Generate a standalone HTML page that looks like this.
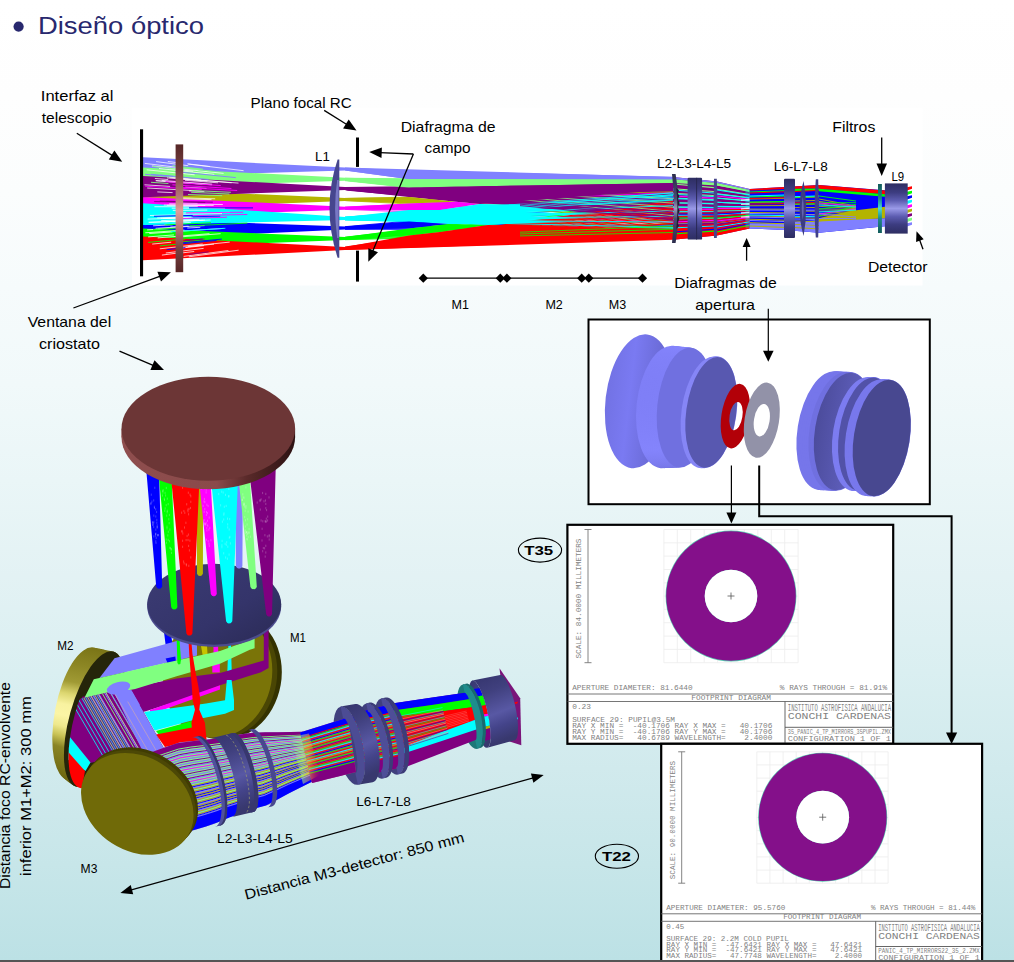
<!DOCTYPE html>
<html><head><meta charset="utf-8"><title>Diseño óptico</title>
<style>
html,body{margin:0;padding:0;}
body{width:1014px;height:962px;overflow:hidden;position:relative;background:linear-gradient(to bottom,#ffffff 0px,#fefefe 96px,#fbfdfd 192px,#f6fbfc 288px,#f1f9fa 384px,#eaf6f7 480px,#e3f2f4 576px,#daeff1 672px,#d1eaed 768px,#c7e6e9 864px,#bce1e5 960px);font-family:"Liberation Sans", sans-serif;}
svg{position:absolute;left:0;top:0;font-family:"Liberation Sans", sans-serif;}
.bar{position:absolute;left:0;top:960px;width:1014px;height:2px;background:#555;}
</style></head><body>
<svg width="1014" height="962" viewBox="0 0 1014 962">
<rect x="132" y="108" width="790.5" height="177.5" fill="#ffffff"/>
<g>
<polygon points="143,189.3 345,198.0 345,201.0 143,208.8" fill="#b4b400"/>
<polygon points="143,157.3 345,167.5 345,170.5 143,176.8" fill="#8080ff"/>
<polygon points="143,167.4 345,177.8 345,180.8 143,187.6" fill="#80ff80"/>
<polygon points="143,197 345,206.7 345,209.7 143,217" fill="#ff00ff"/>
<polygon points="143,176 345,187.0 345,190.0 143,197.3" fill="#800080"/>
<polygon points="143,219.2 345,226.5 345,229.5 143,238.7" fill="#0000ff"/>
<polygon points="143,203.2 345,217.0 345,220.0 143,225" fill="#00ffff"/>
<polygon points="143,228.5 345,237.0 345,240.0 143,248" fill="#00ff00"/>
<polygon points="143,236.5 345,247.1 345,250.1 143,260.3" fill="#ff0000"/>
<path d="M169.2,203.9L222.8,204.5M166.9,205.2L205.3,205.5M167.0,177.9L207.4,181.2M148.2,236.9L173.9,234.9M180.4,168.8L223.6,173.4M188.2,164.1L243.6,170.7M171.7,223.4L190.8,222.6M167.8,161.5L182.5,163.3M154.9,178.5L168.2,179.5M163.8,205.0L213.7,205.4M172.8,210.4L207.3,210.1M164.6,224.3L189.1,223.2M188.8,256.8L238.6,250.2M158.2,228.7L180.5,227.4M147.2,188.0L193.6,190.6M182.1,198.8L211.5,199.6M182.1,252.9L194.2,251.5M185.0,180.3L218.1,182.8M161.9,255.1L177.2,253.1M179.0,221.1L203.2,220.2M159.0,168.5L214.3,174.4M149.3,233.5L172.4,231.9M146.7,169.8L194.6,174.8M169.2,177.2L201.3,179.9M176.9,178.5L194.8,179.9M149.2,222.4L180.2,221.2M156.1,180.6L211.8,184.8M157.7,237.9L209.5,233.7M161.7,180.4L212.2,184.2M148.5,222.3L205.0,220.1M155.6,180.7L202.4,184.2M157.3,191.9L172.6,192.6M170.2,168.7L193.2,171.2M160.7,218.3L193.1,217.4M165.8,253.0L203.6,248.4M152.2,244.1L171.2,242.2M180.8,248.1L204.0,245.6M177.3,178.4L231.6,182.8M186.8,179.1L238.5,183.1M163.0,218.5L179.6,218.1M187.3,163.8L210.0,166.5M155.6,228.3L204.6,225.6M157.2,217.9L177.1,217.3M147.1,229.9L169.4,228.5M182.4,214.3L222.0,213.6M185.3,187.2L206.5,188.4M156.1,161.6L188.2,165.7M151.9,165.9L180.5,169.1M149.9,215.5L178.2,214.9M188.1,246.4L229.7,242.1M170.3,227.0L188.6,226.1M144.8,163.4L197.8,169.8M187.3,228.0L200.3,227.3M165.7,221.7L210.6,220.0M189.0,190.9L204.4,191.6M177.2,213.0L229.7,212.3M175.7,231.5L223.4,228.4M159.8,248.8L202.7,244.0M183.2,247.4L214.0,244.1M182.9,236.7L220.6,233.7M161.2,220.6L199.4,219.3M147.6,219.1L188.4,217.8M183.6,256.4L228.4,250.5M177.1,197.7L215.2,198.8M181.7,202.7L197.5,203.0M145.3,232.8L184.4,230.1M154.4,206.7L197.8,206.8M171.7,208.2L225.1,208.2M144.5,184.8L170.1,186.4M153.1,225.8L172.7,224.8" stroke="#ffffff" stroke-width="0.9" fill="none" opacity="0.85"/>
<path d="M177.0,167.2L214.1,171.4" stroke="#80ff80" stroke-width="0.9" fill="none"/>
<path d="M160.3,175.1L208.6,179.5" stroke="#8080ff" stroke-width="0.9" fill="none"/>
<path d="M165.5,181.6L220.8,185.6" stroke="#ff00ff" stroke-width="0.9" fill="none"/>
<path d="M188.0,194.5L222.2,195.7" stroke="#80ff80" stroke-width="0.9" fill="none"/>
<path d="M159.8,201.1L181.6,201.5" stroke="#800080" stroke-width="0.9" fill="none"/>
<path d="M185.9,212.9L243.3,212.2" stroke="#ff00ff" stroke-width="0.9" fill="none"/>
<path d="M191.5,216.8L220.3,216.1" stroke="#0000ff" stroke-width="0.9" fill="none"/>
<path d="M166.5,224.5L195.3,223.2" stroke="#00ffff" stroke-width="0.9" fill="none"/>
<path d="M164.7,224.9L211.0,222.8" stroke="#00ff00" stroke-width="0.9" fill="none"/>
<path d="M159.8,245.9L216.7,240.0" stroke="#00ff00" stroke-width="0.9" fill="none"/>
<path d="M166.6,249.7L185.4,247.6" stroke="#0000ff" stroke-width="0.9" fill="none"/>
<path d="M187.6,240.6L204.7,239.1" stroke="#800080" stroke-width="0.9" fill="none"/>
<path d="M172.5,165.7L203.0,169.2" stroke="#80ff80" stroke-width="0.9" fill="none"/>
<path d="M145.0,174.3L166.7,176.3" stroke="#8080ff" stroke-width="0.9" fill="none"/>
<path d="M145.2,186.2L201.7,189.5" stroke="#ff00ff" stroke-width="0.9" fill="none"/>
<path d="M151.0,182.3L168.4,183.5" stroke="#80ff80" stroke-width="0.9" fill="none"/>
<path d="M166.3,201.4L212.8,202.2" stroke="#800080" stroke-width="0.9" fill="none"/>
<path d="M184.4,215.8L247.3,214.5" stroke="#ff00ff" stroke-width="0.9" fill="none"/>
<path d="M154.0,216.3L192.7,215.4" stroke="#0000ff" stroke-width="0.9" fill="none"/>
<path d="M144.5,224.6L183.1,222.9" stroke="#00ffff" stroke-width="0.9" fill="none"/>
<path d="M153.0,229.4L181.6,227.8" stroke="#00ff00" stroke-width="0.9" fill="none"/>
<path d="M178.9,242.3L219.9,238.5" stroke="#00ff00" stroke-width="0.9" fill="none"/>
<path d="M181.8,243.8L216.5,240.4" stroke="#0000ff" stroke-width="0.9" fill="none"/>
<path d="M189.3,254.3L208.7,251.8" stroke="#800080" stroke-width="0.9" fill="none"/>
<path d="M180.1,167.5L201.6,169.8" stroke="#80ff80" stroke-width="0.9" fill="none"/>
<path d="M175.3,171.6L235.8,177.6" stroke="#8080ff" stroke-width="0.9" fill="none"/>
<path d="M172.4,184.8L231.4,188.5" stroke="#ff00ff" stroke-width="0.9" fill="none"/>
<path d="M191.2,192.3L229.4,194.0" stroke="#80ff80" stroke-width="0.9" fill="none"/>
<path d="M154.2,201.6L205.3,202.5" stroke="#800080" stroke-width="0.9" fill="none"/>
<path d="M176.1,218.7L227.0,217.2" stroke="#ff00ff" stroke-width="0.9" fill="none"/>
<path d="M189.0,207.8L253.0,207.9" stroke="#0000ff" stroke-width="0.9" fill="none"/>
<path d="M170.8,231.8L225.4,228.3" stroke="#00ffff" stroke-width="0.9" fill="none"/>
<path d="M189.5,225.9L247.3,223.1" stroke="#00ff00" stroke-width="0.9" fill="none"/>
<path d="M148.1,242.4L185.2,238.9" stroke="#00ff00" stroke-width="0.9" fill="none"/>
<path d="M182.4,242.8L221.8,239.1" stroke="#0000ff" stroke-width="0.9" fill="none"/>
<path d="M184.5,240.5L202.7,238.9" stroke="#800080" stroke-width="0.9" fill="none"/>
<path d="M152.6,166.4L184.4,170.0" stroke="#80ff80" stroke-width="0.9" fill="none"/>
<path d="M151.0,174.3L173.5,176.4" stroke="#8080ff" stroke-width="0.9" fill="none"/>
<path d="M180.2,187.3L237.2,190.5" stroke="#ff00ff" stroke-width="0.9" fill="none"/>
<path d="M191.3,190.4L230.9,192.3" stroke="#80ff80" stroke-width="0.9" fill="none"/>
<polygon points="345,167.5 673,177.0 673,214.5 345,170.5" fill="#8080ff"/>
<polygon points="345,177.8 673,180.1 673,217.6 345,180.8" fill="#80ff80"/>
<polygon points="345,187.0 673,182.9 673,220.3 345,190.0" fill="#800080"/>
<polygon points="345,248.8 673,222.4 673,238.3 345,250.1" fill="#ff0000"/>
<path d="M345,217.1L673,192.8M345,217.3L673,195.8M345,217.6L673,198.7M345,217.8L673,201.7M345,218.0L673,204.7M345,218.3L673,207.6M345,218.5L673,210.6M345,218.7L673,213.6M345,219.0L673,216.5M345,219.2L673,219.5M345,219.4L673,222.5M345,219.7L673,225.4M345,219.9L673,228.4" stroke="#00ffff" stroke-width="1.0" fill="none"/>
<path d="M345,226.7L673,197.5M345,227.1L673,202.1M345,227.5L673,206.6M345,227.8L673,211.2M345,228.2L673,215.7M345,228.5L673,220.3M345,228.9L673,224.8M345,229.3L673,229.4" stroke="#0000ff" stroke-width="0.9" fill="none"/>
<path d="M345,237.2L673,199.8M345,237.5L673,203.7M345,237.8L673,207.7M345,238.1L673,211.7M345,238.4L673,215.7M345,238.7L673,219.6M345,239.1L673,223.6M345,239.4L673,227.6M345,239.7L673,231.6" stroke="#00ff00" stroke-width="0.9" fill="none"/>
<path d="M345,207.0L673,192.5M345,207.5L673,198.5M345,208.0L673,204.5M345,208.4L673,210.5M345,208.9L673,216.5M345,209.4L673,222.5" stroke="#ff00ff" stroke-width="0.8" fill="none"/>
<path d="M345,198.4L673,191.8M345,199.2L673,200.5M345,199.8L673,209.3M345,200.6L673,218.0" stroke="#b4b400" stroke-width="0.8" fill="none"/>
<path d="M345,188.3L673,199.7M345,188.5L673,201.3M345,188.6L673,202.8M345,188.7L673,204.4M345,188.8L673,205.9M345,189.0L673,207.5M345,189.1L673,209.1M345,189.2L673,210.6M345,189.3L673,212.2M345,189.5L673,213.7M345,189.6L673,215.3M345,189.7L673,216.8M345,189.8L673,218.4M345,190.0L673,219.9" stroke="#800080" stroke-width="1.1" fill="none"/>
<path d="M345,247.1L673,201.3M345,247.3L673,203.1M345,247.4L673,205.0M345,247.6L673,206.8M345,247.7L673,208.6M345,247.9L673,210.5M345,248.0L673,212.3M345,248.2L673,214.2M345,248.3L673,216.0M345,248.5L673,217.9M345,248.6L673,219.7M345,248.8L673,221.5M345,248.9L673,223.4" stroke="#ff0000" stroke-width="1.1" fill="none"/>
<path d="M345,179.3L673,198.8M345,179.6L673,203.1M345,180.0L673,207.3M345,180.3L673,211.5M345,180.7L673,215.7" stroke="#80ff80" stroke-width="0.8" fill="none"/>
<path d="M345,217.2L673,194.7M345,217.7L673,200.1M345,218.1L673,205.6M345,218.5L673,211.1M345,219.0L673,216.5M345,219.4L673,222.0M345,219.8L673,227.4" stroke="#00ffff" stroke-width="0.9" fill="none"/>
<polygon points="345,167.5 409,170.7 530,173.3 673,176.8 673,179.4 409,179.2 345,170.5" fill="#8080ff"/>
<polygon points="345,177.8 409,179.2 673,179.4 673,183 530,185.5 409,187.5 345,180.8" fill="#80ff80"/>
<polygon points="345,187 409,187.5 530,185.5 673,183 673,189.6 480,204 456,201.7 409,197 345,190" fill="#800080"/>
<polygon points="345,198 409,197 456,201.7 409,203.5 345,201" fill="#b4b400"/>
<polygon points="345,206.7 409,203.5 456,201.7 480,204 440,210 409,210 345,209.7" fill="#ff00ff"/>
<polygon points="345,217 409,210 440,210 480,204 520,204.5 575,205.5 520,208 590,210 525,212 600,214 530,216 585,218 525,220 570,222 515,223.5 488,225 448,224 409,221.5 345,220" fill="#00ffff"/>
<polygon points="345,226.5 409,221.5 448,224 409,228.5 345,229.5" fill="#0000ff"/>
<polygon points="345,237 409,228.5 448,224 488,225 440,232 409,235.5 345,240" fill="#00ff00"/>
<polygon points="345,247.1 409,235.5 440,232 488,225 673,229 673,239.8 345,250.1" fill="#ff0000"/>
<path d="M500,205.6L673,192.8M500,206.7L673,195.0M500,207.9L673,197.2M500,209.0L673,199.4" stroke="#00ffff" stroke-width="0.8" fill="none"/>
<path d="M520,201.4L673,211.9M520,202.8L673,214.4M520,204.2L673,216.9M520,205.6L673,219.4" stroke="#800080" stroke-width="0.9" fill="none"/>
<path d="M520,232.2L673,226.0M520,234.0L673,229.2M520,235.9L673,232.5" stroke="#00ff00" stroke-width="0.8" fill="none"/>
<polygon points="673,177 717,181.5 717,235.6 673,239.8" fill="#800080"/>
<polygon points="673,177 717,181.5 717,183 673,179.2" fill="#8080ff"/>
<polygon points="673,179.2 717,183 717,185.5 673,183" fill="#80ff80"/>
<polygon points="673,228 717,228 717,235.6 673,239.8" fill="#ff0000"/>
<path d="M673,184.0L717,187.9M673,188.7L717,191.8M673,193.3L717,195.8M673,198.0L717,199.7M673,202.7L717,203.6M673,207.3L717,207.6M673,212.0L717,211.5" stroke="#80ff80" stroke-width="1.1" fill="none"/>
<path d="M673,190.0L717,193.2M673,194.2L717,196.8M673,198.4L717,200.4M673,202.7L717,204.0M673,206.9L717,207.6M673,211.1L717,211.2M673,215.3L717,214.8M673,219.6L717,218.4M673,223.8L717,222.0M673,228.0L717,225.6" stroke="#00ffff" stroke-width="1.1" fill="none"/>
<path d="M673,210.0L717,210.8M673,213.3L717,213.5M673,216.7L717,216.3M673,220.0L717,219.1M673,223.3L717,221.8M673,226.7L717,224.6M673,230.0L717,227.4" stroke="#ff0000" stroke-width="1.1" fill="none"/>
<path d="M673,214.0L717,214.3M673,232.0L717,229.1" stroke="#0000ff" stroke-width="1.1" fill="none"/>
<path d="M673,218.0L717,217.8M673,234.0L717,230.9" stroke="#00ff00" stroke-width="1.1" fill="none"/>
<path d="M673,196.0L717,198.4M673,209.0L717,209.4M673,222.0L717,220.3" stroke="#ff00ff" stroke-width="1.1" fill="none"/>
<polygon points="717,181.5 749.7,189 749.7,228.5 717,235.6" fill="#800080"/>
<polygon points="717,181.5 749.7,189 749.7,190 717,183" fill="#8080ff"/>
<polygon points="717,183 749.7,190 749.7,191.5 717,185.5" fill="#80ff80"/>
<polygon points="717,228 749.7,224 749.7,228.5 717,235.6" fill="#ff0000"/>
<path d="M717,185.0L749.7,191.4M717,189.3L749.7,194.6M717,193.7L749.7,197.7M717,198.0L749.7,200.8M717,202.3L749.7,203.9M717,206.7L749.7,207.0M717,211.0L749.7,210.2" stroke="#80ff80" stroke-width="1.1" fill="none"/>
<path d="M717,190.0L749.7,195.0M717,194.1L749.7,198.0M717,198.2L749.7,201.0M717,202.3L749.7,203.9M717,206.4L749.7,206.9M717,210.6L749.7,209.8M717,214.7L749.7,212.8M717,218.8L749.7,215.8M717,222.9L749.7,218.7M717,227.0L749.7,221.7" stroke="#00ffff" stroke-width="1.1" fill="none"/>
<path d="M717,210.0L749.7,209.4M717,213.2L749.7,211.7M717,216.3L749.7,214.0M717,219.5L749.7,216.3M717,222.7L749.7,218.6M717,225.8L749.7,220.8M717,229.0L749.7,223.1" stroke="#ff0000" stroke-width="1.1" fill="none"/>
<path d="M717,214.0L749.7,212.3M717,230.0L749.7,223.8" stroke="#0000ff" stroke-width="1.1" fill="none"/>
<path d="M717,218.0L749.7,215.2M717,232.0L749.7,225.3" stroke="#00ff00" stroke-width="1.1" fill="none"/>
<path d="M717,196.0L749.7,199.4M717,208.5L749.7,208.4M717,221.0L749.7,217.4" stroke="#ff00ff" stroke-width="1.1" fill="none"/>
<polygon points="745.5,190 750.5,189.3 750.5,228.3 745.5,228" fill="#00ffff" opacity="0.3"/>
<path d="M741,200.1L749,199.5L757,200.0" stroke="#ffffff" stroke-width="1.3" fill="none" opacity="0.8"/>
<path d="M741,204.4L749,203.8L757,204.3" stroke="#ffffff" stroke-width="1.3" fill="none" opacity="0.8"/>
<path d="M741,208.79999999999998L749,208.2L757,208.7" stroke="#ffffff" stroke-width="1.3" fill="none" opacity="0.8"/>
<path d="M741,213.0L749,212.4L757,212.9" stroke="#ffffff" stroke-width="1.3" fill="none" opacity="0.8"/>
<path d="M741,217.1L749,216.5L757,217.0" stroke="#ffffff" stroke-width="1.3" fill="none" opacity="0.8"/>
<polygon points="749.7,189 784.5,187 784.5,230 749.7,228.5" fill="#0000ff"/>
<polygon points="749.7,189 784.5,187 784.5,189 749.7,190.5" fill="#ff0000"/>
<polygon points="749.7,223.5 784.5,223 784.5,230 749.7,228.5" fill="#8080ff"/>
<path d="M749.7,199.0L784.5,198.3M749.7,202.4L784.5,201.9M749.7,205.8L784.5,205.6M749.7,209.1L784.5,209.2M749.7,212.5L784.5,212.9M749.7,215.9L784.5,216.5M749.7,219.2L784.5,220.2M749.7,222.6L784.5,223.8M749.7,226.0L784.5,227.4" stroke="#b4b400" stroke-width="1.0" fill="none"/>
<path d="M749.7,192.0L784.5,190.7M749.7,197.0L784.5,196.1M749.7,202.0L784.5,201.5" stroke="#00ff00" stroke-width="1.0" fill="none"/>
<path d="M749.7,193.0L784.5,191.8M749.7,198.5L784.5,197.7M749.7,204.0L784.5,203.7" stroke="#ff0000" stroke-width="1.0" fill="none"/>
<path d="M749.7,196.0L784.5,195.0M749.7,215.0L784.5,215.6" stroke="#00ffff" stroke-width="1.0" fill="none"/>
<path d="M749.7,210.0L784.5,210.2M749.7,213.5L784.5,213.9M749.7,217.0L784.5,217.7M749.7,220.5L784.5,221.5M749.7,224.0L784.5,225.3" stroke="#8080ff" stroke-width="1.0" fill="none"/>
<polygon points="784.5,187 819,185 819,232.7 784.5,230" fill="#0000ff"/>
<polygon points="784.5,187 819,185 819,188.5 784.5,189" fill="#ff0000"/>
<polygon points="784.5,189 819,188.5 819,191 784.5,190.5" fill="#00ff00"/>
<polygon points="784.5,222.5 819,220 819,232.7 784.5,230" fill="#8080ff"/>
<path d="M784.5,198.0L819,197.0M784.5,201.2L819,200.5M784.5,204.4L819,204.1M784.5,207.7L819,207.6M784.5,210.9L819,211.2M784.5,214.1L819,214.7M784.5,217.3L819,218.3M784.5,220.6L819,221.8M784.5,223.8L819,225.4M784.5,227.0L819,228.9" stroke="#b4b400" stroke-width="1.0" fill="none"/>
<path d="M784.5,191.0L819,189.3M784.5,197.5L819,196.4M784.5,204.0L819,203.6" stroke="#00ff00" stroke-width="1.0" fill="none"/>
<path d="M784.5,192.0L819,190.4M784.5,203.0L819,202.5" stroke="#ff0000" stroke-width="1.0" fill="none"/>
<path d="M784.5,197.0L819,195.9M784.5,216.0L819,216.8" stroke="#00ffff" stroke-width="1.0" fill="none"/>
<path d="M784.5,210.0L819,210.2M784.5,214.3L819,215.0M784.5,218.7L819,219.7M784.5,223.0L819,224.5" stroke="#8080ff" stroke-width="1.0" fill="none"/>
<polygon points="819,185 885,190.3 885,226.2 819,232.7" fill="#0000ff"/>
<polygon points="819,220 885,218.2 885,226.2 819,232.7" fill="#8080ff"/>
<polygon points="826,216.5 850,211 885,206.8 885,218.2 819,221.5 819,218.5" fill="#b4b400"/>
<path d="M819,199.0L856,206.0M819,201.4L856,206.9M819,203.9L856,207.8M819,206.3L856,208.7M819,208.8L856,209.6M819,211.2L856,210.4M819,213.7L856,211.3M819,216.1L856,212.2M819,218.6L856,213.1M819,221.0L856,214.0" stroke="#b4b400" stroke-width="0.9" fill="none"/>
<path d="M819,196.0L856,201.0M819,202.7L856,202.7M819,209.3L856,204.3M819,216.0L856,206.0" stroke="#00ff00" stroke-width="0.9" fill="none"/>
<path d="M819,203.0L856,206.0M819,214.0L856,209.0" stroke="#ff00ff" stroke-width="0.9" fill="none"/>
<path d="M819,214.0L856,217.0M819,218.5L856,218.5M819,223.0L856,220.0" stroke="#8080ff" stroke-width="0.9" fill="none"/>
<path d="M819,205.0L856,207.0M819,212.0L856,210.0" stroke="#00ffff" stroke-width="0.9" fill="none"/>
<polygon points="819,185 885,190.5 885,194.2 819,188.7" fill="#ff0000"/>
<polygon points="819,188.7 885,194.2 885,196.8 819,191.2" fill="#00ff00"/>
<polygon points="907,187.3 912,186.3 912,188.7 907,190.5" fill="#ff0000"/>
<polygon points="907,191.8 912,190.8 912,193.2 907,195" fill="#00ff00"/>
<polygon points="907,196.3 912,195.3 912,197.7 907,199.5" fill="#0000ff"/>
<polygon points="907,200.8 912,199.8 912,202.2 907,204" fill="#00ffff"/>
<polygon points="907,205.3 912,204.3 912,206.7 907,208.5" fill="#ff00ff"/>
<polygon points="907,209.8 912,208.8 912,211.2 907,213" fill="#b4b400"/>
<polygon points="907,214.3 912,213.3 912,215.7 907,217.5" fill="#800080"/>
<polygon points="907,218.8 912,217.8 912,220.2 907,222" fill="#80ff80"/>
<polygon points="907,223.3 912,222.3 912,224.7 907,226.5" fill="#8080ff"/>
</g>
<defs>
<linearGradient id="lensV" x1="0" y1="0" x2="0" y2="1">
<stop offset="0" stop-color="#2e2e62"/><stop offset="0.18" stop-color="#3c3c80"/><stop offset="0.34" stop-color="#5c5cb0"/>
<stop offset="0.5" stop-color="#9a9ae8"/><stop offset="0.66" stop-color="#5c5cb0"/><stop offset="0.82" stop-color="#3c3c80"/><stop offset="1" stop-color="#2e2e62"/>
</linearGradient>
<linearGradient id="winV" x1="0" y1="0" x2="0" y2="1">
<stop offset="0" stop-color="#562626"/><stop offset="0.2" stop-color="#784040"/><stop offset="0.4" stop-color="#b47474"/>
<stop offset="0.52" stop-color="#e09c9c"/><stop offset="0.66" stop-color="#b47474"/><stop offset="0.82" stop-color="#784040"/><stop offset="1" stop-color="#562626"/>
</linearGradient>
<linearGradient id="filtV" x1="0" y1="0" x2="0" y2="1">
<stop offset="0" stop-color="#125c5c"/><stop offset="0.3" stop-color="#1e8a8a"/><stop offset="0.5" stop-color="#48d8d8"/><stop offset="0.7" stop-color="#1e8a8a"/><stop offset="1" stop-color="#125c5c"/>
</linearGradient>
<linearGradient id="l2V" x1="0" y1="0" x2="0" y2="1">
<stop offset="0" stop-color="#2c2c4c"/><stop offset="0.35" stop-color="#4a4a70"/><stop offset="0.5" stop-color="#9a9ab8"/><stop offset="0.65" stop-color="#4a4a70"/><stop offset="1" stop-color="#2c2c4c"/>
</linearGradient>
</defs>
<rect x="140" y="129.3" width="3.1" height="147" fill="#000"/>
<rect x="175.6" y="144.4" width="7.6" height="127.8" fill="url(#winV)"/>
<path d="M337.6,159.6 L339.3,159.6 L339.3,257.7 L337.6,257.7 Q321.4,208 337.6,159.6 Z" fill="#46468e"/>
<path d="M337.2,180 L338.6,180 L338.6,238 L337.2,238 Q333,208 337.2,180Z" fill="#7878c4"/>
<rect x="356" y="137.5" width="3" height="29.4" fill="#000"/>
<rect x="356" y="250.6" width="3" height="31" fill="#000"/>
<path d="M672,174 L675.6,174 Q682,208 675.6,243 L672,243 Q676,208 672,174Z" fill="url(#l2V)"/>
<path d="M676.3,188 L679,190.5 L677.6,193 L679.4,196 L677.9,199 L679.6,203 L678,207 L679.6,211 L677.9,215 L679.4,219 L677.6,223 L679,226 L676.3,229 Q678.6,208 676.3,188Z" fill="#1c1c30"/>
<rect x="687.6" y="177.8" width="14.5" height="61.8" rx="1.2" fill="url(#lensV)"/>
<rect x="696.2" y="177.8" width="0.9" height="61.8" fill="#26264e"/>
<path d="M714,178.8 L716.8,178.8 Q718.4,208 716.8,238 L714,238 Q713,208 714,178.8Z" fill="#48488a"/>
<rect x="784" y="178.8" width="11" height="59.1" rx="1" fill="url(#lensV)"/>
<path d="M803.6,180.9 Q808.6,208 803.6,236 Q795.6,208 803.6,180.9Z" fill="#3c3c82"/>
<path d="M802.8,197 Q804.6,208 802.8,220 Q800.6,208 802.8,197Z" fill="#6464b0"/>
<path d="M815.8,179.2 L818.2,179.2 Q819.8,208 818.2,237.5 L815.8,237.5 Q813.4,208 815.8,179.2Z" fill="#40408a"/>
<rect x="878" y="184" width="3.9" height="49" fill="url(#filtV)"/>
<rect x="884.9" y="183.4" width="22.8" height="50.2" fill="url(#lensV)"/>
<defs>
<linearGradient id="navyD" x1="0" y1="0" x2="1" y2="1"><stop offset="0" stop-color="#3c3c74"/><stop offset="0.6" stop-color="#34346a"/><stop offset="1" stop-color="#2a2a54"/></linearGradient>
<linearGradient id="m2rim" x1="0" y1="0" x2="0" y2="1"><stop offset="0" stop-color="#7a7416"/><stop offset="0.15" stop-color="#8c8624"/><stop offset="0.28" stop-color="#a09a34"/><stop offset="0.37" stop-color="#dcd670"/><stop offset="0.45" stop-color="#f8f2a0"/><stop offset="0.53" stop-color="#fbf5a5"/><stop offset="0.61" stop-color="#eee88c"/><stop offset="0.68" stop-color="#c8c254"/><stop offset="0.76" stop-color="#8a8424"/><stop offset="1" stop-color="#6a640e"/></linearGradient>
<linearGradient id="cylV" x1="0" y1="0" x2="0.25" y2="1"><stop offset="0" stop-color="#34346c"/><stop offset="0.3" stop-color="#40407e"/><stop offset="0.62" stop-color="#5858a4"/><stop offset="0.8" stop-color="#44448a"/><stop offset="1" stop-color="#38386e"/></linearGradient>
</defs>
<ellipse cx="226.5" cy="675.5" rx="55" ry="64.5" transform="rotate(10 226.5 675.5)" fill="#343200"/>
<ellipse cx="222" cy="675" rx="55" ry="64.3" transform="rotate(10 222 675)" fill="#4a4604"/>
<ellipse cx="217.5" cy="674" rx="54.5" ry="64" transform="rotate(10 217.5 674)" fill="#7a7408"/>
<ellipse cx="81.2" cy="714" rx="26.4" ry="67.7" transform="rotate(10.9 81.2 714)" fill="url(#m2rim)" />
<ellipse cx="83.86" cy="715.0" rx="26.119999999999997" ry="68.16" transform="rotate(11.84 83.86 715.0)" fill="url(#m2rim)" />
<ellipse cx="86.52" cy="716.0" rx="25.84" ry="68.62" transform="rotate(12.780000000000001 86.52 716.0)" fill="url(#m2rim)" />
<ellipse cx="89.18" cy="717.0" rx="25.56" ry="69.08" transform="rotate(13.719999999999999 89.18 717.0)" fill="url(#m2rim)" />
<ellipse cx="91.84" cy="718.0" rx="25.28" ry="69.54" transform="rotate(14.66 91.84 718.0)" fill="url(#m2rim)" />
<ellipse cx="94.5" cy="719.0" rx="25.0" ry="70.0" transform="rotate(15.6 94.5 719.0)" fill="url(#m2rim)" />
<ellipse cx="94.5" cy="719" rx="25" ry="70" transform="rotate(15.6 94.5 719)" fill="#25250a" />
<polygon points="201.0,646.0 207.0,646.0 207.5,654.0 203.0,657.0" fill="#c8c400" />
<polygon points="163.7,630.0 170.5,630.0 175.0,663.0 168.0,663.0" fill="#0000ff" />
<polygon points="213.3,640.0 218.0,640.0 218.3,655.5 213.6,655.5" fill="#ff00ff" />
<polygon points="212.3,663.9 219.8,663.9 219.8,672.5 212.3,672.5" fill="#ff00ff" />
<polygon points="228.6,640.0 230.8,640.0 232.0,680.0 227.0,680.0" fill="#00ffff" />
<polygon points="114.5,658.3 176.6,641.0 197.0,636.0 197.0,655.5 162.8,663.8 99.3,678.3" fill="#8080ff" />
<polygon points="165.6,658.5 175.3,656.5 176.0,662.0 168.0,664.0" fill="#0000ff" />
<polygon points="81.6,697.0 104.9,691.9 135.2,686.6 176.6,678.5 220.0,673.0 263.8,660.5 263.8,627.0 268.6,627.0 268.6,668.0 261.0,672.3 220.0,685.2 193.2,696.3 144.9,711.5 100.0,718.0" fill="#800080" />
<polygon points="93.8,679.3 162.8,663.6 220.0,651.0 249.8,640.2 249.8,634.0 254.6,634.0 254.6,648.3 249.8,649.8 220.0,663.8 176.6,676.3 135.2,689.0 84.1,698.5" fill="#80ff80" />
<polygon points="150.0,710.0 220.0,685.2 220.0,689.6 150.0,714.5" fill="#ff00ff" />
<polygon points="156.0,731.0 192.0,721.0 192.0,728.0 160.0,736.0" fill="#00ff00" />
<polygon points="144.2,712.1 206.0,703.5 225.0,700.3 226.8,680.0 231.6,680.0 234.0,700.0 234.0,710.0 225.0,713.7 194.6,719.7 154.6,730.5" fill="#00ffff" />
<polygon points="156.0,734.5 191.8,727.5 204.5,727.5 205.0,738.5 165.0,747.0" fill="#ff0000" />
<polygon points="176.6,638.0 179.4,638.0 181.0,660.0 180.3,664.0 178.6,664.6 177.4,663.0" fill="#00ff00" />
<polygon points="188.0,630.0 190.4,630.0 192.4,653.6 195.5,672.0 198.3,686.0 200.4,700.0 199.3,709.7 204.9,722.8 206.7,741.0 193.0,741.0 191.4,722.8 195.0,709.7 192.6,700.0 191.8,686.0 190.6,672.0 189.2,653.6" fill="#ff0000" />
<clipPath id="m2clip"><ellipse cx="99" cy="720" rx="24.8" ry="70.6" transform="rotate(15.6 99 720)"/><rect x="100" y="640" width="120" height="130"/></clipPath>
<g clip-path="url(#m2clip)">
<polygon points="50.0,721.5 72.0,707.0 80.0,698.8 104.9,693.0 122.0,689.5 131.5,690.3 166.0,752.0 123.2,756.0 89.9,763.0 50.0,738.1" fill="#800080" />
<clipPath id="hatclip"><polygon points="50.0,721.5 72.0,707.0 80.0,698.8 104.9,693.0 122.0,689.5 131.5,690.3 166.0,752.0 123.2,756.0 89.9,763.0 50.0,738.1"/></clipPath>
<polygon points="50.0,734.0 69.1,736.0 90.5,762.5 85.5,771.0 50.0,748.0" fill="#00ffff" />
<polygon points="50.0,749.0 65.5,749.0 85.0,771.0 81.5,790.0 50.0,780.0" fill="#ff0000" />
<g clip-path="url(#hatclip)"><path d="M68.8,672L120.8,761.4M73.0,672L125.0,761.4M77.2,672L129.2,761.4M81.4,672L133.4,761.4M85.6,672L137.6,761.4M89.8,672L141.8,761.4M94.0,672L146.0,761.4M98.2,672L150.2,761.4M102.4,672L154.4,761.4M106.6,672L158.6,761.4M110.8,672L162.8,761.4" stroke="#80ff80" stroke-width="0.9" fill="none"/>
<path d="M54.1,672L106.1,761.4M58.3,672L110.3,761.4M62.5,672L114.5,761.4M66.7,672L118.7,761.4M70.9,672L122.9,761.4M75.1,672L127.1,761.4M79.3,672L131.3,761.4M83.5,672L135.5,761.4" stroke="#00ffff" stroke-width="0.9" fill="none" opacity="0.9"/>
<polygon points="110.0,684.0 131.5,690.3 166.0,752.0 145.0,756.0" fill="#8080ff" />
<path d="M96.1,672L148.1,761.4M102.4,672L154.4,761.4M108.7,672L160.7,761.4M115.0,672L167.0,761.4M121.3,672L173.3,761.4M127.6,672L179.6,761.4" stroke="#8080ff" stroke-width="1" fill="none" transform="translate(-14,4)"/>
<path d="M70.9,672L122.9,761.4M79.3,672L131.3,761.4M87.7,672L139.7,761.4M96.1,672L148.1,761.4M104.5,672L156.5,761.4" stroke="#c0a0c0" stroke-width="0.8" fill="none" transform="translate(6,0)"/>
</g>
<ellipse cx="118.6" cy="688" rx="12" ry="6" transform="rotate(-14 118.6 688)" fill="#8080ff"/>
<polygon points="112.0,690.0 131.5,690.3 140.0,705.0 122.0,700.0" fill="#8080ff" />
</g>
<ellipse cx="214.2" cy="606.6" rx="67" ry="40.5" fill="#4c4c8e"/>
<ellipse cx="214.2" cy="604.2" rx="67" ry="40.5" fill="url(#navyD)"/>
<path d="M196.5,468 L203.2,468 L202.9,573.7 Q201.4,576.4 199.9,575.8 Q198.5,576.4 197.0,573.7 Z" fill="#b4b400"/>
<path d="M235.3,468 L242.9,468 L242.4,566.3 Q240.8,569.0 239.1,568.4 Q237.4,569.0 235.8,566.3 Z" fill="#8080ff"/>
<path d="M146.1,468 L159.0,468 L162.2,586.5 Q160.7,589.2 159.2,588.6 Q157.7,589.2 156.2,586.5 Z" fill="#0000ff"/>
<path d="M197.8,468 L209.9,468 L216.8,594.1 Q215.3,596.8 213.8,596.2 Q212.3,596.8 210.8,594.1 Z" fill="#ff00ff"/>
<path d="M237.3,468 L249.2,468 L256.8,587.0 Q255.2,589.7 253.6,589.1 Q252.0,589.7 250.4,587.0 Z" fill="#80ff80"/>
<path d="M158.0,468 L171.2,468 L177.4,607.2 Q175.8,609.9 174.3,609.3 Q172.7,609.9 171.2,607.2 Z" fill="#00ff00"/>
<path d="M209.7,468 L238.4,468 L232.3,621.2 Q230.7,623.9 229.2,623.3 Q227.6,623.9 226.1,621.2 Z" fill="#00ffff"/>
<path d="M248.8,468 L275.7,468 L272.0,614.3 Q270.6,617.0 269.1,616.4 Q267.7,617.0 266.2,614.3 Z" fill="#800080"/>
<path d="M170.1,468 L200.0,468 L192.4,633.4 Q190.9,636.1 189.4,635.5 Q187.9,636.1 186.4,633.4 Z" fill="#ff0000"/>
<path d="M153.7,499.3v2.2M154.5,506.8v2.2M152.5,521.1v2.2M154.8,486.7v2.2M151.9,500.5v2.2M156.0,541.9v2.2M155.5,532.9v2.2M153.0,521.9v2.2M156.8,521.6v2.2M155.8,515.4v2.2M152.7,523.7v2.2M155.8,528.5v2.2M150.9,502.9v2.2M155.6,534.6v2.2M157.1,526.3v2.2M157.3,526.1v2.2M155.7,508.2v2.2M156.6,510.9v2.2M153.8,535.3v2.2M151.3,493.6v2.2M155.8,540.2v2.2M153.8,521.2v2.2M153.8,514.5v2.2M154.3,505.7v2.2M156.8,518.8v2.2M157.2,524.3v2.2M158.0,534.0v2.2M153.2,523.7v2.2M157.9,534.3v2.2M156.2,536.8v2.2M153.7,526.0v2.2M155.9,532.7v2.2M151.0,502.0v2.2M158.0,533.9v2.2M206.1,491.3v2.2M204.2,510.7v2.2M206.9,503.7v2.2M206.5,538.6v2.2M204.9,523.0v2.2M206.9,529.3v2.2M210.9,539.1v2.2M209.2,516.5v2.2M203.2,504.7v2.2M204.7,522.2v2.2M204.4,497.9v2.2M205.4,522.8v2.2M206.2,488.6v2.2M208.1,504.9v2.2M208.2,540.1v2.2M206.4,513.8v2.2M207.8,524.8v2.2M207.5,519.7v2.2M209.0,542.7v2.2M207.4,512.0v2.2M204.0,500.3v2.2M209.3,544.9v2.2M204.3,519.1v2.2M206.5,511.0v2.2M204.6,487.2v2.2M205.1,524.1v2.2M207.1,523.8v2.2M206.8,526.9v2.2M208.9,528.6v2.2M201.3,487.3v2.2M209.8,526.8v2.2M204.9,501.1v2.2M206.2,521.7v2.2M204.8,507.9v2.2M245.9,506.8v2.2M244.3,502.9v2.2M245.4,529.5v2.2M247.7,518.1v2.2M243.5,503.5v2.2M246.6,531.3v2.2M244.0,496.6v2.2M245.3,525.4v2.2M244.2,504.2v2.2M247.7,533.0v2.2M246.6,534.2v2.2M246.0,505.0v2.2M248.1,535.9v2.2M242.4,498.7v2.2M244.7,515.9v2.2M249.4,531.5v2.2M243.1,496.3v2.2M248.5,531.5v2.2M247.1,531.5v2.2M242.8,493.3v2.2M246.7,530.8v2.2M244.8,505.5v2.2M245.2,509.7v2.2M246.9,537.9v2.2M245.9,486.3v2.2M250.5,535.6v2.2M248.1,510.5v2.2M247.3,538.3v2.2M249.1,528.0v2.2M247.1,523.4v2.2M244.0,502.3v2.2M242.1,498.8v2.2M245.5,519.2v2.2M245.7,531.7v2.2M170.4,547.0v2.2M171.4,548.3v2.2M169.8,546.7v2.2M166.3,486.9v2.2M164.3,497.6v2.2M168.3,530.7v2.2M169.4,513.9v2.2M167.0,527.3v2.2M168.2,503.0v2.2M168.8,518.2v2.2M164.7,509.7v2.2M169.2,522.1v2.2M167.3,497.6v2.2M171.0,548.2v2.2M166.5,541.6v2.2M169.9,528.4v2.2M163.4,489.4v2.2M166.2,504.1v2.2M166.7,514.5v2.2M166.2,538.4v2.2M162.5,489.7v2.2M162.5,494.4v2.2M171.5,551.8v2.2M165.1,491.8v2.2M165.2,507.3v2.2M167.3,509.7v2.2M167.0,525.6v2.2M164.5,498.9v2.2M165.6,494.4v2.2M167.8,534.3v2.2M162.9,491.4v2.2M167.2,511.2v2.2M168.2,538.8v2.2M169.5,540.1v2.2M223.7,518.4v2.2M227.7,523.3v2.2M227.5,517.6v2.2M222.4,520.6v2.2M227.7,526.3v2.2M223.2,491.4v2.2M229.7,518.0v2.2M225.6,556.4v2.2M229.1,553.5v2.2M224.3,505.7v2.2M228.6,495.3v2.2M229.9,535.8v2.2M227.8,545.6v2.2M226.7,541.2v2.2M225.5,493.8v2.2M218.9,486.4v2.2M221.9,544.2v2.2M218.7,492.9v2.2M223.7,552.2v2.2M228.9,487.8v2.2M229.0,495.1v2.2M229.3,536.6v2.2M227.4,557.6v2.2M221.9,546.1v2.2M226.3,543.7v2.2M222.1,539.8v2.2M230.4,542.3v2.2M221.7,490.6v2.2M229.2,528.4v2.2M220.6,504.2v2.2M226.2,504.8v2.2M225.1,542.7v2.2M223.8,513.6v2.2M224.0,512.3v2.2M262.6,491.9v2.2M265.2,555.5v2.2M262.0,539.4v2.2M267.3,535.3v2.2M264.9,534.1v2.2M265.6,520.5v2.2M262.7,550.1v2.2M265.8,492.8v2.2M265.8,551.4v2.2M266.3,517.6v2.2M260.1,499.3v2.2M264.0,500.2v2.2M260.3,508.5v2.2M269.1,535.3v2.2M265.8,507.1v2.2M267.7,515.5v2.2M262.1,527.7v2.2M257.2,501.5v2.2M262.8,520.2v2.2M261.1,498.3v2.2M266.6,509.0v2.2M269.0,496.3v2.2M265.1,520.2v2.2M267.6,519.4v2.2M265.8,544.7v2.2M266.4,520.4v2.2M264.6,547.2v2.2M269.2,538.4v2.2M261.1,519.4v2.2M265.8,502.8v2.2M269.2,534.2v2.2M263.3,547.0v2.2M260.0,499.5v2.2M265.5,499.4v2.2M190.8,556.3v2.2M190.5,506.9v2.2M184.8,511.7v2.2M182.6,545.7v2.2M190.1,493.6v2.2M183.9,509.9v2.2M188.4,533.5v2.2M182.6,486.6v2.2M185.9,521.7v2.2M186.7,503.2v2.2M186.4,564.2v2.2M182.0,530.6v2.2M187.9,508.5v2.2M190.8,495.2v2.2M183.6,560.4v2.2M186.2,563.1v2.2M189.4,549.3v2.2M188.0,510.2v2.2M189.9,539.6v2.2M189.0,507.8v2.2M188.8,564.7v2.2M181.9,529.9v2.2M184.5,526.4v2.2M188.6,544.8v2.2M182.8,532.4v2.2M188.0,538.9v2.2M190.8,500.7v2.2M182.6,539.7v2.2M184.1,562.3v2.2M188.6,513.2v2.2M187.1,534.9v2.2M186.1,539.0v2.2M181.6,511.6v2.2M188.3,491.6v2.2" stroke="#ffffff" stroke-width="0.55" opacity="0.42" fill="none"/>
<defs><linearGradient id="brs" x1="0" y1="0" x2="1" y2="0"><stop offset="0" stop-color="#8e4e4e"/><stop offset="0.55" stop-color="#8a4a4a"/><stop offset="0.72" stop-color="#5a2a2a"/><stop offset="1" stop-color="#2c1212"/></linearGradient></defs>
<ellipse cx="208.3" cy="437.2" rx="86.8" ry="52" fill="url(#brs)"/>
<rect x="121.5" y="428.7" width="173.6" height="8.5" fill="url(#brs)"/>
<ellipse cx="208.3" cy="428.7" rx="86.8" ry="52" fill="#6c3636"/>
<ellipse cx="349.2" cy="745.7" rx="13.5" ry="40" transform="rotate(-12.5 349.2 745.7)" fill="#40407e" />
<ellipse cx="374.5" cy="741" rx="13" ry="38.5" transform="rotate(-12.5 374.5 741)" fill="#40407e" />
<ellipse cx="389.5" cy="736.5" rx="13" ry="39" transform="rotate(-12.5 389.5 736.5)" fill="#40407e" />
<ellipse cx="470" cy="716.6" rx="11" ry="33" transform="rotate(-12.5 470 716.6)" fill="#1c7878" />
<ellipse cx="479.8" cy="714.1" rx="8" ry="34.5" transform="rotate(-12.5 479.8 714.1)" fill="url(#cylV)" />
<polygon points="152.0,752.0 180.0,742.3 208.0,739.6 225.6,737.6 241.0,734.2 254.0,732.5 290.0,732.0 303.0,731.8 314.0,780.7 305.7,784.8 283.6,795.9 268.8,804.8 256.9,807.7 227.3,818.1 214.0,824.0 194.8,829.9 170.0,836.0" fill="#9a86d0" />
<polygon points="152.0,752.0 164.6,747.6 177.2,743.3 189.8,741.4 202.3,740.1 214.9,738.8 227.5,737.2 240.1,734.4 252.7,732.7 265.2,732.3 277.8,732.2 290.4,732.0 303.0,731.8 303.8,735.2 291.2,735.8 278.7,736.4 266.1,737.0 253.6,737.8 241.1,739.6 228.5,742.5 216.0,744.3 203.4,745.9 190.9,747.3 178.3,749.4 165.8,753.6 153.3,757.9" fill="#800080" />
<polygon points="167.5,824.2 179.6,821.1 191.6,817.9 203.7,814.5 215.8,810.7 227.9,806.2 240.0,802.3 252.1,798.3 264.1,795.3 276.2,789.9 288.3,784.2 300.4,779.0 312.5,773.9 314.0,780.7 302.0,786.7 290.0,792.7 278.0,799.3 266.0,805.5 254.0,808.7 242.0,812.9 230.0,817.2 218.0,822.2 206.0,826.5 194.0,830.1 182.0,833.0 170.0,836.0" fill="#0000ff" />
<polyline points="153.2,757.6 165.7,753.3 178.3,749.1 190.8,747.0 203.4,745.6 215.9,744.0 228.5,742.2 241.0,739.3 253.6,737.5 266.1,736.8 278.6,736.2 291.2,735.6 303.7,735.1" stroke="#80ff80" stroke-width="0.95" fill="none"/>
<polyline points="153.4,758.7 166.0,754.4 178.5,750.2 191.0,748.1 203.6,746.7 216.1,745.0 228.7,743.2 241.2,740.3 253.7,738.5 266.3,737.7 278.8,737.0 291.3,736.3 303.9,735.7" stroke="#800080" stroke-width="0.95" fill="none"/>
<polyline points="153.7,759.8 166.2,755.5 178.7,751.3 191.3,749.2 203.8,747.7 216.3,746.0 228.8,744.2 241.4,741.3 253.9,739.4 266.4,738.5 279.0,737.8 291.5,737.0 304.0,736.3" stroke="#80ff80" stroke-width="0.95" fill="none"/>
<polyline points="153.9,760.8 166.4,756.6 178.9,752.4 191.5,750.3 204.0,748.8 216.5,747.1 229.0,745.2 241.5,742.2 254.1,740.3 266.6,739.4 279.1,738.5 291.6,737.7 304.2,736.9" stroke="#8080ff" stroke-width="0.95" fill="none"/>
<polyline points="154.1,761.9 166.6,757.7 179.2,753.5 191.7,751.4 204.2,749.9 216.7,748.1 229.2,746.1 241.7,743.2 254.2,741.3 266.8,740.3 279.3,739.3 291.8,738.5 304.3,737.6" stroke="#80ff80" stroke-width="0.95" fill="none"/>
<polyline points="154.4,763.0 166.9,758.8 179.4,754.7 191.9,752.5 204.4,750.9 216.9,749.1 229.4,747.1 241.9,744.2 254.4,742.2 266.9,741.1 279.4,740.1 291.9,739.2 304.4,738.2" stroke="#800080" stroke-width="0.95" fill="none"/>
<polyline points="154.6,764.1 167.1,759.9 179.6,755.8 192.1,753.6 204.6,752.0 217.1,750.1 229.6,748.1 242.1,745.1 254.6,743.2 267.1,742.0 279.6,740.9 292.1,739.9 304.6,738.8" stroke="#8080ff" stroke-width="0.95" fill="none"/>
<polyline points="154.8,765.2 167.3,761.1 179.8,756.9 192.3,754.7 204.8,753.0 217.3,751.1 229.8,749.1 242.3,746.1 254.8,744.1 267.3,742.9 279.7,741.7 292.2,740.6 304.7,739.5" stroke="#80ff80" stroke-width="0.95" fill="none"/>
<polyline points="155.1,766.3 167.5,762.2 180.0,758.0 192.5,755.8 205.0,754.1 217.5,752.1 230.0,750.1 242.4,747.0 254.9,745.1 267.4,743.7 279.9,742.5 292.4,741.3 304.9,740.1" stroke="#ff00ff" stroke-width="0.95" fill="none"/>
<polyline points="155.3,767.4 167.8,763.3 180.2,759.2 192.7,756.9 205.2,755.2 217.7,753.1 230.2,751.0 242.6,748.0 255.1,746.0 267.6,744.6 280.1,743.2 292.5,742.0 305.0,740.7" stroke="#80ff80" stroke-width="0.95" fill="none"/>
<polyline points="155.5,768.5 168.0,764.4 180.5,760.3 192.9,758.0 205.4,756.2 217.9,754.2 230.3,752.0 242.8,749.0 255.3,746.9 267.7,745.5 280.2,744.0 292.7,742.7 305.2,741.4" stroke="#8080ff" stroke-width="0.95" fill="none"/>
<polyline points="155.8,769.5 168.2,765.5 180.7,761.4 193.1,759.1 205.6,757.3 218.1,755.2 230.5,753.0 243.0,749.9 255.5,747.9 267.9,746.3 280.4,744.8 292.8,743.4 305.3,742.0" stroke="#80ff80" stroke-width="0.95" fill="none"/>
<polyline points="156.0,770.6 168.4,766.6 180.9,762.5 193.4,760.2 205.8,758.3 218.3,756.2 230.7,754.0 243.2,750.9 255.6,748.8 268.1,747.2 280.5,745.6 293.0,744.1 305.4,742.6" stroke="#800080" stroke-width="0.95" fill="none"/>
<polyline points="156.2,771.7 168.7,767.7 181.1,763.7 193.6,761.3 206.0,759.4 218.5,757.2 230.9,755.0 243.3,751.8 255.8,749.8 268.2,748.1 280.7,746.4 293.1,744.8 305.6,743.3" stroke="#80ff80" stroke-width="0.95" fill="none"/>
<polyline points="156.5,772.8 168.9,768.8 181.3,764.8 193.8,762.4 206.2,760.5 218.7,758.2 231.1,755.9 243.5,752.8 256.0,750.7 268.4,748.9 280.8,747.2 293.3,745.5 305.7,743.9" stroke="#8080ff" stroke-width="0.95" fill="none"/>
<polyline points="156.7,773.9 169.1,769.9 181.6,765.9 194.0,763.5 206.4,761.5 218.8,759.2 231.3,756.9 243.7,753.8 256.1,751.6 268.6,749.8 281.0,747.9 293.4,746.2 305.9,744.5" stroke="#80ff80" stroke-width="0.95" fill="none"/>
<polyline points="156.9,775.0 169.3,771.0 181.8,767.0 194.2,764.6 206.6,762.6 219.0,760.2 231.5,757.9 243.9,754.7 256.3,752.6 268.7,750.6 281.2,748.7 293.6,746.9 306.0,745.2" stroke="#800080" stroke-width="0.95" fill="none"/>
<polyline points="157.2,776.1 169.6,772.1 182.0,768.2 194.4,765.7 206.8,763.7 219.2,761.3 231.7,758.9 244.1,755.7 256.5,753.5 268.9,751.5 281.3,749.5 293.7,747.7 306.2,745.8" stroke="#8080ff" stroke-width="0.95" fill="none"/>
<polyline points="157.4,777.2 169.8,773.2 182.2,769.3 194.6,766.8 207.0,764.7 219.4,762.3 231.8,759.9 244.3,756.7 256.7,754.5 269.1,752.4 281.5,750.3 293.9,748.4 306.3,746.4" stroke="#80ff80" stroke-width="0.95" fill="none"/>
<polyline points="157.6,778.2 170.0,774.3 182.4,770.4 194.8,767.9 207.2,765.8 219.6,763.3 232.0,760.8 244.4,757.6 256.8,755.4 269.2,753.2 281.6,751.1 294.0,749.1 306.4,747.1" stroke="#ff00ff" stroke-width="0.95" fill="none"/>
<polyline points="157.9,779.3 170.2,775.4 182.6,771.5 195.0,769.0 207.4,766.8 219.8,764.3 232.2,761.8 244.6,758.6 257.0,756.4 269.4,754.1 281.8,751.9 294.2,749.8 306.6,747.7" stroke="#80ff80" stroke-width="0.95" fill="none"/>
<polyline points="158.1,780.4 170.5,776.5 182.9,772.6 195.2,770.1 207.6,767.9 220.0,765.3 232.4,762.8 244.8,759.5 257.2,757.3 269.6,755.0 281.9,752.6 294.3,750.5 306.7,748.3" stroke="#8080ff" stroke-width="0.95" fill="none"/>
<polyline points="158.3,781.5 170.7,777.6 183.1,773.8 195.5,771.2 207.8,769.0 220.2,766.3 232.6,763.8 245.0,760.5 257.3,758.2 269.7,755.8 282.1,753.4 294.5,751.2 306.9,749.0" stroke="#80ff80" stroke-width="0.95" fill="none"/>
<polyline points="158.6,782.6 170.9,778.7 183.3,774.9 195.7,772.3 208.0,770.0 220.4,767.3 232.8,764.8 245.2,761.5 257.5,759.2 269.9,756.7 282.3,754.2 294.6,751.9 307.0,749.6" stroke="#800080" stroke-width="0.95" fill="none"/>
<polyline points="158.8,783.7 171.2,779.8 183.5,776.0 195.9,773.4 208.2,771.1 220.6,768.4 233.0,765.7 245.3,762.4 257.7,760.1 270.1,757.6 282.4,755.0 294.8,752.6 307.1,750.2" stroke="#80ff80" stroke-width="0.95" fill="none"/>
<polyline points="159.0,784.8 171.4,780.9 183.7,777.1 196.1,774.5 208.4,772.2 220.8,769.4 233.2,766.7 245.5,763.4 257.9,761.1 270.2,758.4 282.6,755.8 294.9,753.3 307.3,750.9" stroke="#8080ff" stroke-width="0.95" fill="none"/>
<polyline points="159.3,785.8 171.6,782.1 183.9,778.3 196.3,775.6 208.6,773.2 221.0,770.4 233.3,767.7 245.7,764.3 258.0,762.0 270.4,759.3 282.7,756.6 295.1,754.0 307.4,751.5" stroke="#80ff80" stroke-width="0.95" fill="none"/>
<polyline points="159.5,786.9 171.8,783.2 184.2,779.4 196.5,776.8 208.8,774.3 221.2,771.4 233.5,768.7 245.9,765.3 258.2,763.0 270.6,760.2 282.9,757.3 295.2,754.7 307.6,752.1" stroke="#800080" stroke-width="0.95" fill="none"/>
<polyline points="159.7,788.0 172.1,784.3 184.4,780.5 196.7,777.9 209.1,775.3 221.4,772.4 233.7,769.7 246.1,766.3 258.4,763.9 270.7,761.0 283.1,758.1 295.4,755.4 307.7,752.8" stroke="#8080ff" stroke-width="0.95" fill="none"/>
<polyline points="160.0,789.1 172.3,785.4 184.6,781.6 196.9,779.0 209.3,776.4 221.6,773.4 233.9,770.6 246.2,767.2 258.6,764.8 270.9,761.9 283.2,758.9 295.5,756.1 307.9,753.4" stroke="#80ff80" stroke-width="0.95" fill="none"/>
<polyline points="160.2,790.2 172.5,786.5 184.8,782.8 197.1,780.1 209.5,777.5 221.8,774.4 234.1,771.6 246.4,768.2 258.7,765.8 271.0,762.8 283.4,759.7 295.7,756.8 308.0,754.0" stroke="#ff00ff" stroke-width="0.95" fill="none"/>
<polyline points="160.4,791.3 172.7,787.6 185.0,783.9 197.3,781.2 209.7,778.5 222.0,775.4 234.3,772.6 246.6,769.2 258.9,766.7 271.2,763.6 283.5,760.5 295.8,757.6 308.1,754.7" stroke="#80ff80" stroke-width="0.95" fill="none"/>
<polyline points="160.7,792.4 173.0,788.7 185.3,785.0 197.6,782.3 209.9,779.6 222.2,776.5 234.5,773.6 246.8,770.1 259.1,767.7 271.4,764.5 283.7,761.3 296.0,758.3 308.3,755.3" stroke="#8080ff" stroke-width="0.95" fill="none"/>
<polyline points="160.9,793.5 173.2,789.8 185.5,786.1 197.8,783.4 210.1,780.7 222.4,777.5 234.7,774.6 247.0,771.1 259.2,768.6 271.5,765.4 283.8,762.0 296.1,759.0 308.4,755.9" stroke="#80ff80" stroke-width="0.95" fill="none"/>
<polyline points="161.1,794.6 173.4,790.9 185.7,787.3 198.0,784.5 210.3,781.7 222.6,778.5 234.8,775.6 247.1,772.1 259.4,769.6 271.7,766.2 284.0,762.8 296.3,759.7 308.6,756.6" stroke="#b4b400" stroke-width="0.95" fill="none"/>
<polyline points="161.4,795.7 173.6,792.0 185.9,788.4 198.2,785.6 210.5,782.8 222.8,779.5 235.0,776.6 247.3,773.0 259.6,770.5 271.9,767.1 284.2,763.6 296.4,760.4 308.7,757.2" stroke="#0000ff" stroke-width="0.95" fill="none"/>
<polyline points="161.6,796.8 173.9,793.2 186.1,789.6 198.4,786.7 210.7,783.9 223.0,780.6 235.2,777.6 247.5,774.0 259.8,771.5 272.0,768.0 284.3,764.4 296.6,761.1 308.9,757.9" stroke="#8080ff" stroke-width="0.95" fill="none"/>
<polyline points="161.8,797.9 174.1,794.3 186.4,790.7 198.6,787.8 210.9,785.0 223.2,781.6 235.4,778.6 247.7,775.0 259.9,772.4 272.2,768.9 284.5,765.2 296.7,761.9 309.0,758.5" stroke="#b4b400" stroke-width="0.95" fill="none"/>
<polyline points="162.1,799.0 174.3,795.4 186.6,791.9 198.8,789.0 211.1,786.1 223.4,782.6 235.6,779.6 247.9,776.0 260.1,773.4 272.4,769.8 284.6,766.0 296.9,762.6 309.2,759.2" stroke="#80ff80" stroke-width="0.95" fill="none"/>
<polyline points="162.3,800.1 174.6,796.6 186.8,793.0 199.1,790.1 211.3,787.2 223.6,783.7 235.8,780.6 248.1,777.0 260.3,774.4 272.6,770.7 284.8,766.8 297.1,763.3 309.3,759.8" stroke="#b4b400" stroke-width="0.95" fill="none"/>
<polyline points="162.5,801.2 174.8,797.7 187.0,794.1 199.3,791.2 211.5,788.2 223.8,784.7 236.0,781.6 248.2,777.9 260.5,775.3 272.7,771.6 285.0,767.6 297.2,764.0 309.4,760.5" stroke="#0000ff" stroke-width="0.95" fill="none"/>
<polyline points="162.8,802.3 175.0,798.8 187.3,795.3 199.5,792.3 211.7,789.3 224.0,785.7 236.2,782.6 248.4,778.9 260.7,776.3 272.9,772.4 285.1,768.4 297.4,764.7 309.6,761.1" stroke="#8080ff" stroke-width="0.95" fill="none"/>
<polyline points="163.0,803.4 175.2,799.9 187.5,796.4 199.7,793.5 211.9,790.4 224.2,786.8 236.4,783.6 248.6,779.9 260.8,777.3 273.1,773.3 285.3,769.2 297.5,765.5 309.7,761.7" stroke="#b4b400" stroke-width="0.95" fill="none"/>
<polyline points="163.3,804.5 175.5,801.1 187.7,797.6 199.9,794.6 212.1,791.5 224.4,787.8 236.6,784.6 248.8,780.9 261.0,778.2 273.2,774.2 285.4,770.0 297.7,766.2 309.9,762.4" stroke="#0000ff" stroke-width="0.95" fill="none"/>
<polyline points="163.5,805.7 175.7,802.2 187.9,798.7 200.1,795.7 212.3,792.6 224.6,788.9 236.8,785.6 249.0,781.9 261.2,779.2 273.4,775.1 285.6,770.8 297.8,766.9 310.0,763.0" stroke="#b4b400" stroke-width="0.95" fill="none"/>
<polyline points="163.7,806.8 175.9,803.3 188.1,799.9 200.3,796.8 212.5,793.7 224.8,789.9 237.0,786.6 249.2,782.9 261.4,780.1 273.6,776.0 285.8,771.6 298.0,767.6 310.2,763.7" stroke="#0000ff" stroke-width="0.95" fill="none"/>
<polyline points="164.0,807.9 176.2,804.5 188.4,801.0 200.6,798.0 212.8,794.7 224.9,790.9 237.1,787.6 249.3,783.8 261.5,781.1 273.7,776.9 285.9,772.4 298.1,768.4 310.3,764.3" stroke="#8080ff" stroke-width="0.95" fill="none"/>
<polyline points="164.2,809.0 176.4,805.6 188.6,802.2 200.8,799.1 213.0,795.8 225.1,792.0 237.3,788.6 249.5,784.8 261.7,782.1 273.9,777.7 286.1,773.2 298.3,769.1 310.5,765.0" stroke="#b4b400" stroke-width="0.95" fill="none"/>
<polyline points="164.4,810.1 176.6,806.7 188.8,803.3 201.0,800.2 213.2,796.9 225.3,793.0 237.5,789.6 249.7,785.8 261.9,783.0 274.1,778.6 286.2,774.0 298.4,769.8 310.6,765.6" stroke="#80ff80" stroke-width="0.95" fill="none"/>
<polyline points="164.7,811.2 176.9,807.8 189.0,804.5 201.2,801.3 213.4,798.0 225.5,794.0 237.7,790.6 249.9,786.8 262.1,784.0 274.2,779.5 286.4,774.8 298.6,770.5 310.8,766.3" stroke="#b4b400" stroke-width="0.95" fill="none"/>
<polyline points="164.9,812.3 177.1,809.0 189.3,805.6 201.4,802.5 213.6,799.1 225.7,795.1 237.9,791.6 250.1,787.8 262.2,785.0 274.4,780.4 286.6,775.6 298.7,771.2 310.9,766.9" stroke="#0000ff" stroke-width="0.95" fill="none"/>
<polyline points="165.2,813.4 177.3,810.1 189.5,806.8 201.6,803.6 213.8,800.2 225.9,796.1 238.1,792.6 250.3,788.7 262.4,785.9 274.6,781.3 286.7,776.4 298.9,772.0 311.0,767.6" stroke="#8080ff" stroke-width="0.95" fill="none"/>
<polyline points="165.4,814.5 177.5,811.2 189.7,807.9 201.8,804.7 214.0,801.3 226.1,797.1 238.3,793.6 250.4,789.7 262.6,786.9 274.7,782.2 286.9,777.2 299.0,772.7 311.2,768.2" stroke="#b4b400" stroke-width="0.95" fill="none"/>
<polyline points="165.6,815.6 177.8,812.4 189.9,809.1 202.1,805.8 214.2,802.3 226.3,798.2 238.5,794.6 250.6,790.7 262.8,787.8 274.9,783.1 287.1,778.0 299.2,773.4 311.3,768.9" stroke="#0000ff" stroke-width="0.95" fill="none"/>
<polyline points="165.9,816.8 178.0,813.5 190.1,810.2 202.3,807.0 214.4,803.4 226.5,799.2 238.7,795.6 250.8,791.7 262.9,788.8 275.1,783.9 287.2,778.8 299.3,774.1 311.5,769.5" stroke="#b4b400" stroke-width="0.95" fill="none"/>
<polyline points="166.1,817.9 178.2,814.6 190.4,811.4 202.5,808.1 214.6,804.5 226.7,800.2 238.9,796.6 251.0,792.7 263.1,789.8 275.2,784.8 287.4,779.6 299.5,774.9 311.6,770.1" stroke="#0000ff" stroke-width="0.95" fill="none"/>
<polyline points="166.4,819.0 178.5,815.7 190.6,812.5 202.7,809.2 214.8,805.6 226.9,801.3 239.1,797.6 251.2,793.7 263.3,790.7 275.4,785.7 287.5,780.4 299.7,775.6 311.8,770.8" stroke="#8080ff" stroke-width="0.95" fill="none"/>
<polyline points="166.6,820.1 178.7,816.9 190.8,813.6 202.9,810.3 215.0,806.7 227.1,802.3 239.3,798.6 251.4,794.6 263.5,791.7 275.6,786.6 287.7,781.2 299.8,776.3 311.9,771.4" stroke="#b4b400" stroke-width="0.95" fill="none"/>
<polyline points="166.8,821.2 178.9,818.0 191.0,814.8 203.1,811.5 215.2,807.8 227.3,803.3 239.4,799.6 251.5,795.6 263.6,792.6 275.8,787.5 287.9,782.0 300.0,777.0 312.1,772.1" stroke="#80ff80" stroke-width="0.95" fill="none"/>
<polyline points="167.1,822.3 179.2,819.1 191.3,815.9 203.4,812.6 215.4,808.8 227.5,804.4 239.6,800.6 251.7,796.6 263.8,793.6 275.9,788.4 288.0,782.8 300.1,777.7 312.2,772.7" stroke="#b4b400" stroke-width="0.95" fill="none"/>
<polyline points="167.3,823.4 179.4,820.3 191.5,817.1 203.6,813.7 215.7,809.9 227.7,805.4 239.8,801.6 251.9,797.6 264.0,794.6 276.1,789.2 288.2,783.6 300.3,778.5 312.4,773.4" stroke="#0000ff" stroke-width="0.95" fill="none"/>
<polyline points="167.5,824.5 179.6,821.4 191.7,818.2 203.8,814.8 215.9,811.0 227.9,806.4 240.0,802.6 252.1,798.6 264.2,795.5 276.3,790.1 288.3,784.4 300.4,779.2 312.5,774.0" stroke="#8080ff" stroke-width="0.95" fill="none"/>
<polygon points="300.0,732.4 348.0,717.5 356.0,772.0 312.0,783.0" fill="#b04080" />
<polygon points="300.0,732.4 308.0,729.9 316.0,727.4 324.0,725.0 332.0,722.5 340.0,720.0 348.0,717.5 349.0,724.6 341.1,727.0 333.2,729.4 325.3,731.8 317.4,734.2 309.5,736.6 301.6,739.0" fill="#0000ff" />
<polygon points="309.4,771.9 316.8,769.9 324.3,767.9 331.8,765.9 339.3,764.0 346.8,762.0 354.2,760.0 356.0,772.0 348.7,773.8 341.3,775.7 334.0,777.5 326.7,779.3 319.3,781.2 312.0,783.0" fill="#800080" />
<polyline points="301.3,738.1 325.1,730.8 348.9,723.6" stroke="#ff0000" stroke-width="0.95" fill="none"/>
<polyline points="301.6,739.3 325.4,732.1 349.1,724.9" stroke="#00ff00" stroke-width="0.95" fill="none"/>
<polyline points="301.9,740.5 325.6,733.4 349.3,726.2" stroke="#00ffff" stroke-width="0.95" fill="none"/>
<polyline points="302.2,741.7 325.8,734.6 349.5,727.5" stroke="#ff0000" stroke-width="0.95" fill="none"/>
<polyline points="302.5,742.9 326.1,735.9 349.7,728.8" stroke="#0000ff" stroke-width="0.95" fill="none"/>
<polyline points="302.8,744.1 326.3,737.1 349.9,730.1" stroke="#00ff00" stroke-width="0.95" fill="none"/>
<polyline points="303.1,745.4 326.6,738.4 350.0,731.5" stroke="#ff0000" stroke-width="0.95" fill="none"/>
<polyline points="303.4,746.6 326.8,739.7 350.2,732.8" stroke="#00ffff" stroke-width="0.95" fill="none"/>
<polyline points="303.6,747.8 327.0,740.9 350.4,734.1" stroke="#b4b400" stroke-width="0.95" fill="none"/>
<polyline points="303.9,749.0 327.3,742.2 350.6,735.4" stroke="#ff0000" stroke-width="0.95" fill="none"/>
<polyline points="304.2,750.2 327.5,743.4 350.8,736.7" stroke="#00ff00" stroke-width="0.95" fill="none"/>
<polyline points="304.5,751.4 327.8,744.7 351.0,738.0" stroke="#800080" stroke-width="0.95" fill="none"/>
<polyline points="304.8,752.6 328.0,746.0 351.2,739.3" stroke="#ff0000" stroke-width="0.95" fill="none"/>
<polyline points="305.1,753.9 328.2,747.2 351.4,740.6" stroke="#00ff00" stroke-width="0.95" fill="none"/>
<polyline points="305.4,755.1 328.5,748.5 351.6,741.9" stroke="#00ffff" stroke-width="0.95" fill="none"/>
<polyline points="305.7,756.3 328.7,749.8 351.8,743.2" stroke="#ff0000" stroke-width="0.95" fill="none"/>
<polyline points="306.0,757.5 329.0,751.0 352.0,744.5" stroke="#0000ff" stroke-width="0.95" fill="none"/>
<polyline points="306.2,758.7 329.2,752.3 352.2,745.8" stroke="#00ff00" stroke-width="0.95" fill="none"/>
<polyline points="306.5,759.9 329.4,753.5 352.4,747.1" stroke="#ff0000" stroke-width="0.95" fill="none"/>
<polyline points="306.8,761.1 329.7,754.8 352.5,748.5" stroke="#00ffff" stroke-width="0.95" fill="none"/>
<polyline points="307.1,762.4 329.9,756.1 352.7,749.8" stroke="#b4b400" stroke-width="0.95" fill="none"/>
<polyline points="307.4,763.6 330.2,757.3 352.9,751.1" stroke="#ff0000" stroke-width="0.95" fill="none"/>
<polyline points="307.7,764.8 330.4,758.6 353.1,752.4" stroke="#00ff00" stroke-width="0.95" fill="none"/>
<polyline points="308.0,766.0 330.6,759.8 353.3,753.7" stroke="#800080" stroke-width="0.95" fill="none"/>
<polyline points="308.3,767.2 330.9,761.1 353.5,755.0" stroke="#ff0000" stroke-width="0.95" fill="none"/>
<polyline points="308.5,768.4 331.1,762.4 353.7,756.3" stroke="#00ff00" stroke-width="0.95" fill="none"/>
<polyline points="308.8,769.6 331.4,763.6 353.9,757.6" stroke="#00ffff" stroke-width="0.95" fill="none"/>
<polyline points="309.1,770.9 331.6,764.9 354.1,758.9" stroke="#ff0000" stroke-width="0.95" fill="none"/>
<polyline points="309.4,772.1 331.8,766.1 354.3,760.2" stroke="#0000ff" stroke-width="0.95" fill="none"/>
<polyline points="309.7,773.3 332.1,767.4 354.5,761.5" stroke="#00ff00" stroke-width="0.95" fill="none"/>
<defs><linearGradient id="pglow" x1="0" y1="0" x2="1" y2="0"><stop offset="0" stop-color="#a0ff90" stop-opacity="0"/><stop offset="0.4" stop-color="#b0f080" stop-opacity="0.55"/><stop offset="0.62" stop-color="#ffb040" stop-opacity="0.5"/><stop offset="1" stop-color="#ff4020" stop-opacity="0"/></linearGradient></defs>
<polygon points="291.0,737.0 309.0,733.5 320.0,775.0 303.0,784.0" fill="url(#pglow)" />
<polygon points="352.0,713.5 394.0,703.5 406.0,766.5 366.0,775.0" fill="#b83060" />
<polygon points="352.0,713.5 359.0,711.8 366.0,710.2 373.0,708.5 380.0,706.8 387.0,705.2 394.0,703.5 395.6,711.7 388.6,713.3 381.6,715.0 374.7,716.6 367.7,718.2 360.8,719.9 353.8,721.5" fill="#0000ff" />
<polygon points="363.2,762.7 369.9,761.2 376.7,759.8 383.4,758.3 390.1,756.8 396.9,755.4 403.6,753.9 406.0,766.5 399.3,767.9 392.7,769.3 386.0,770.8 379.3,772.2 372.7,773.6 366.0,775.0" fill="#800080" />
<polyline points="353.9,721.6 374.7,716.7 395.6,711.8" stroke="#ff0000" stroke-width="0.95" fill="none"/>
<polyline points="354.2,723.2 375.0,718.3 395.9,713.4" stroke="#00ff00" stroke-width="0.95" fill="none"/>
<polyline points="354.6,724.7 375.4,719.9 396.2,715.0" stroke="#00ffff" stroke-width="0.95" fill="none"/>
<polyline points="354.9,726.3 375.7,721.4 396.5,716.6" stroke="#ff0000" stroke-width="0.95" fill="none"/>
<polyline points="355.3,727.8 376.0,723.0 396.8,718.1" stroke="#0000ff" stroke-width="0.95" fill="none"/>
<polyline points="355.6,729.3 376.3,724.5 397.1,719.7" stroke="#00ff00" stroke-width="0.95" fill="none"/>
<polyline points="356.0,730.9 376.7,726.1 397.4,721.3" stroke="#ff0000" stroke-width="0.95" fill="none"/>
<polyline points="356.3,732.4 377.0,727.6 397.7,722.9" stroke="#00ffff" stroke-width="0.95" fill="none"/>
<polyline points="356.7,733.9 377.3,729.2 398.0,724.4" stroke="#b4b400" stroke-width="0.95" fill="none"/>
<polyline points="357.0,735.5 377.6,730.8 398.3,726.0" stroke="#ff0000" stroke-width="0.95" fill="none"/>
<polyline points="357.4,737.0 378.0,732.3 398.6,727.6" stroke="#00ff00" stroke-width="0.95" fill="none"/>
<polyline points="357.7,738.6 378.3,733.9 398.9,729.2" stroke="#800080" stroke-width="0.95" fill="none"/>
<polyline points="358.1,740.1 378.6,735.4 399.2,730.7" stroke="#ff0000" stroke-width="0.95" fill="none"/>
<polyline points="358.4,741.6 378.9,737.0 399.5,732.3" stroke="#00ff00" stroke-width="0.95" fill="none"/>
<polyline points="358.8,743.2 379.3,738.5 399.8,733.9" stroke="#00ffff" stroke-width="0.95" fill="none"/>
<polyline points="359.1,744.7 379.6,740.1 400.1,735.5" stroke="#ff0000" stroke-width="0.95" fill="none"/>
<polyline points="359.5,746.2 379.9,741.6 400.4,737.0" stroke="#0000ff" stroke-width="0.95" fill="none"/>
<polyline points="359.8,747.8 380.2,743.2 400.7,738.6" stroke="#00ff00" stroke-width="0.95" fill="none"/>
<polyline points="360.2,749.3 380.6,744.8 401.0,740.2" stroke="#ff0000" stroke-width="0.95" fill="none"/>
<polyline points="360.5,750.9 380.9,746.3 401.3,741.8" stroke="#00ffff" stroke-width="0.95" fill="none"/>
<polyline points="360.9,752.4 381.2,747.9 401.6,743.3" stroke="#b4b400" stroke-width="0.95" fill="none"/>
<polyline points="361.2,753.9 381.5,749.4 401.9,744.9" stroke="#ff0000" stroke-width="0.95" fill="none"/>
<polyline points="361.6,755.5 381.9,751.0 402.2,746.5" stroke="#00ff00" stroke-width="0.95" fill="none"/>
<polyline points="361.9,757.0 382.2,752.5 402.5,748.1" stroke="#800080" stroke-width="0.95" fill="none"/>
<polyline points="362.3,758.5 382.5,754.1 402.8,749.6" stroke="#ff0000" stroke-width="0.95" fill="none"/>
<polyline points="362.6,760.1 382.8,755.7 403.1,751.2" stroke="#00ff00" stroke-width="0.95" fill="none"/>
<polyline points="363.0,761.6 383.2,757.2 403.4,752.8" stroke="#00ffff" stroke-width="0.95" fill="none"/>
<polyline points="363.3,763.2 383.5,758.8 403.7,754.4" stroke="#ff0000" stroke-width="0.95" fill="none"/>
<polygon points="392.0,703.5 472.0,691.8 482.0,737.4 404.6,767.5" fill="#800080" />
<polygon points="392.0,703.5 432.0,697.6 472.0,691.8 473.5,698.6 433.5,704.8 393.4,710.5" fill="#0000ff" />
<polygon points="393.4,710.5 433.5,704.8 473.5,698.6 475.3,706.8 435.1,712.4 394.6,716.9" fill="#00ff00" />
<polygon points="394.5,716.3 435.0,712.2 475.3,706.8 477.9,718.7 439.4,733.5 401.1,749.6" fill="#ff0000" />
<polygon points="400.8,748.3 439.3,733.0 477.9,718.7 480.0,728.3 441.0,741.2 402.0,754.1" fill="#00ffff" />
<polyline points="394.7,717.1 418.6,712.4 442.5,707.6" stroke="#00ffff" stroke-width="0.8" fill="none" opacity="0.75"/>
<polyline points="395.0,718.7 418.9,713.8 442.8,708.9" stroke="#00ff00" stroke-width="0.8" fill="none" opacity="0.75"/>
<polyline points="395.3,720.2 419.2,715.2 443.1,710.2" stroke="#ff8080" stroke-width="0.8" fill="none" opacity="0.75"/>
<polyline points="395.6,721.8 419.5,716.7 443.4,711.5" stroke="#0000ff" stroke-width="0.8" fill="none" opacity="0.75"/>
<polyline points="395.9,723.4 419.8,718.1 443.7,712.8" stroke="#00ffff" stroke-width="0.8" fill="none" opacity="0.75"/>
<polyline points="396.2,724.9 420.1,719.5 444.0,714.1" stroke="#ffa0a0" stroke-width="0.8" fill="none" opacity="0.75"/>
<polyline points="396.5,726.5 420.4,720.9 444.3,715.4" stroke="#800080" stroke-width="0.8" fill="none" opacity="0.75"/>
<polyline points="396.8,728.1 420.7,722.4 444.6,716.7" stroke="#00ffff" stroke-width="0.8" fill="none" opacity="0.75"/>
<polyline points="397.1,729.7 421.0,723.8 444.9,718.0" stroke="#00ff00" stroke-width="0.8" fill="none" opacity="0.75"/>
<polyline points="397.5,731.2 421.3,725.2 445.2,719.2" stroke="#ff8080" stroke-width="0.8" fill="none" opacity="0.75"/>
<polyline points="397.8,732.8 421.6,726.7 445.5,720.5" stroke="#0000ff" stroke-width="0.8" fill="none" opacity="0.75"/>
<polyline points="398.1,734.4 421.9,728.1 445.8,721.8" stroke="#00ffff" stroke-width="0.8" fill="none" opacity="0.75"/>
<polyline points="398.4,735.9 422.2,729.5 446.1,723.1" stroke="#ffa0a0" stroke-width="0.8" fill="none" opacity="0.75"/>
<polyline points="398.7,737.5 422.5,731.0 446.4,724.4" stroke="#800080" stroke-width="0.8" fill="none" opacity="0.75"/>
<polyline points="399.0,739.1 422.8,732.4 446.7,725.7" stroke="#00ffff" stroke-width="0.8" fill="none" opacity="0.75"/>
<polyline points="399.3,740.6 423.1,733.8 447.0,727.0" stroke="#00ff00" stroke-width="0.8" fill="none" opacity="0.75"/>
<polyline points="399.6,742.2 423.4,735.2 447.3,728.3" stroke="#ff8080" stroke-width="0.8" fill="none" opacity="0.75"/>
<polyline points="399.9,743.8 423.7,736.7 447.6,729.6" stroke="#0000ff" stroke-width="0.8" fill="none" opacity="0.75"/>
<polyline points="400.2,745.4 424.0,738.1 447.8,730.8" stroke="#00ffff" stroke-width="0.8" fill="none" opacity="0.75"/>
<polyline points="400.6,746.9 424.3,739.5 448.1,732.1" stroke="#ffa0a0" stroke-width="0.8" fill="none" opacity="0.75"/>
<polyline points="400.9,748.5 424.6,741.0 448.4,733.4" stroke="#800080" stroke-width="0.8" fill="none" opacity="0.75"/>
<polyline points="401.2,750.1 425.0,742.4 448.7,734.7" stroke="#00ffff" stroke-width="0.8" fill="none" opacity="0.75"/>
<polyline points="444.5,716.2 466.5,711.0" stroke="#ff9090" stroke-width="0.7" fill="none" opacity="0.45"/>
<polyline points="444.9,717.8 466.9,712.4" stroke="#ffb0b0" stroke-width="0.7" fill="none" opacity="0.45"/>
<polyline points="445.2,719.3 467.2,713.8" stroke="#ff9090" stroke-width="0.7" fill="none" opacity="0.45"/>
<polyline points="445.6,720.9 467.6,715.2" stroke="#ffb0b0" stroke-width="0.7" fill="none" opacity="0.45"/>
<polyline points="445.9,722.5 467.9,716.7" stroke="#ff9090" stroke-width="0.7" fill="none" opacity="0.45"/>
<polyline points="446.3,724.1 468.3,718.1" stroke="#ffb0b0" stroke-width="0.7" fill="none" opacity="0.45"/>
<polyline points="446.7,725.6 468.7,719.5" stroke="#ff9090" stroke-width="0.7" fill="none" opacity="0.45"/>
<polyline points="447.0,727.2 469.0,720.9" stroke="#ffb0b0" stroke-width="0.7" fill="none" opacity="0.45"/>
<polygon points="192.1,737.5 194.0,737.4 196.0,738.1 198.2,739.5 200.5,741.7 202.8,744.5 205.2,748.0 207.5,752.1 209.7,756.7 211.9,761.7 213.9,767.1 215.7,772.7 217.3,778.5 218.7,784.4 219.9,790.2 220.7,795.9 221.3,801.3 221.5,806.4 221.5,811.1 221.1,815.3 220.5,819.0 219.5,822.0 218.3,824.3 216.8,825.9 215.1,826.7 220.7,825.4 222.4,824.6 223.9,823.0 225.1,820.7 226.1,817.7 226.7,814.0 227.1,809.8 227.1,805.1 226.9,800.0 226.3,794.6 225.5,788.9 224.3,783.1 222.9,777.2 221.3,771.4 219.5,765.8 217.5,760.4 215.3,755.4 213.1,750.8 210.8,746.7 208.4,743.2 206.1,740.4 203.8,738.2 201.6,736.8 199.6,736.1 197.7,736.2" fill="#50509c" />
<polygon points="195.5,736.7 197.4,736.6 199.4,737.3 201.6,738.7 203.9,740.9 206.2,743.7 208.6,747.2 210.9,751.3 213.1,755.9 215.3,760.9 217.3,766.3 219.1,771.9 220.7,777.7 222.1,783.6 223.3,789.4 224.1,795.1 224.7,800.5 224.9,805.6 224.9,810.3 224.5,814.5 223.9,818.2 222.9,821.2 221.7,823.5 220.2,825.1 218.5,825.9 220.9,825.4 222.6,824.6 224.1,823.0 225.3,820.7 226.3,817.7 226.9,814.0 227.3,809.8 227.3,805.1 227.1,800.0 226.5,794.6 225.7,788.9 224.5,783.1 223.1,777.2 221.5,771.4 219.7,765.8 217.7,760.4 215.5,755.4 213.3,750.8 211.0,746.7 208.6,743.2 206.3,740.4 204.0,738.2 201.8,736.8 199.8,736.1 197.9,736.2" fill="#36366a" />
<polygon points="211.8,737.9 213.3,737.9 215.0,738.5 216.8,739.8 218.7,741.8 220.7,744.3 222.6,747.4 224.6,751.1 226.5,755.2 228.4,759.6 230.1,764.4 231.7,769.4 233.1,774.5 234.4,779.7 235.4,784.8 236.2,789.9 236.7,794.7 237.1,799.2 237.1,803.3 236.9,807.0 236.4,810.2 235.7,812.8 234.7,814.8 233.6,816.2 232.2,816.9 253.4,812.1 254.8,811.4 255.9,810.0 256.9,808.0 257.6,805.4 258.1,802.2 258.3,798.5 258.3,794.4 257.9,789.9 257.4,785.1 256.6,780.0 255.6,774.9 254.3,769.7 252.9,764.6 251.3,759.6 249.6,754.8 247.7,750.4 245.8,746.3 243.8,742.6 241.9,739.5 239.9,737.0 238.0,735.0 236.2,733.7 234.5,733.1 233.0,733.1" fill="url(#cylV)" />
<polygon points="229.0,734.0 230.5,734.0 232.2,734.6 234.0,735.9 235.9,737.9 237.9,740.4 239.8,743.5 241.8,747.2 243.7,751.3 245.6,755.7 247.3,760.5 248.9,765.5 250.3,770.6 251.6,775.8 252.6,780.9 253.4,786.0 253.9,790.8 254.3,795.3 254.3,799.4 254.1,803.1 253.6,806.3 252.9,808.9 251.9,810.9 250.8,812.3 249.4,813.0 253.4,812.1 254.8,811.4 255.9,810.0 256.9,808.0 257.6,805.4 258.1,802.2 258.3,798.5 258.3,794.4 257.9,789.9 257.4,785.1 256.6,780.0 255.6,774.9 254.3,769.7 252.9,764.6 251.3,759.6 249.6,754.8 247.7,750.4 245.8,746.3 243.8,742.6 241.9,739.5 239.9,737.0 238.0,735.0 236.2,733.7 234.5,733.1 233.0,733.1" fill="#38386e" />
<polyline points="226.2,735.2 227.8,736.0 229.4,737.3 231.2,739.2 233.0,741.5 234.8,744.4 236.6,747.6 238.4,751.3 240.1,755.3 241.7,759.6 243.2,764.1 244.6,768.7 245.9,773.5 246.9,778.2 247.8,782.9 248.5,787.5 249.0,791.9 249.3,796.0 249.4,799.9 249.3,803.3 248.9,806.4 248.3,809.0 247.5,811.1 246.6,812.7 245.4,813.7" stroke="#9a9a70" stroke-width="0.7" stroke-dasharray="2.5 2" fill="none"/>
<polygon points="247.3,730.2 248.9,730.1 250.6,730.7 252.5,732.0 254.4,733.9 256.4,736.3 258.4,739.4 260.4,742.9 262.4,746.9 264.2,751.3 265.9,756.0 267.5,760.9 268.9,765.9 270.1,771.0 271.1,776.0 271.9,780.9 272.4,785.7 272.6,790.1 272.6,794.2 272.3,797.8 271.8,800.9 271.0,803.5 270.0,805.5 268.7,806.9 267.3,807.6 271.9,806.5 273.3,805.8 274.6,804.4 275.6,802.4 276.4,799.8 276.9,796.7 277.2,793.1 277.2,789.0 277.0,784.6 276.5,779.8 275.7,774.9 274.7,769.9 273.5,764.8 272.1,759.8 270.5,754.9 268.8,750.2 267.0,745.8 265.0,741.8 263.0,738.3 261.0,735.2 259.0,732.8 257.1,730.9 255.2,729.6 253.5,729.0 251.9,729.1" fill="#48488e" />
<polygon points="343.0,717.9 343.8,718.0 344.6,718.5 345.6,719.5 346.5,721.0 347.6,722.9 348.6,725.2 349.7,727.8 350.8,730.8 351.8,734.0 352.8,737.3 353.7,740.9 354.6,744.5 355.3,748.2 356.0,751.8 356.5,755.2 356.9,758.6 357.2,761.7 357.4,764.5 357.4,767.0 357.2,769.2 357.0,771.0 356.5,772.3 356.0,773.1 355.4,773.5 357.9,784.8 359.5,784.0 361.0,782.7 362.2,780.7 363.3,778.1 364.1,774.9 364.6,771.2 364.9,767.2 364.9,762.7 364.7,757.9 364.2,753.0 363.4,747.9 362.4,742.8 361.1,737.7 359.7,732.8 358.1,728.1 356.3,723.6 354.4,719.6 352.4,716.0 350.4,712.9 348.3,710.4 346.2,708.5 344.2,707.2 342.3,706.6 340.5,706.6" fill="#4c4c94" />
<polygon points="340.5,706.6 342.3,706.6 344.2,707.2 346.2,708.5 348.3,710.4 350.4,712.9 352.4,716.0 354.4,719.6 356.3,723.6 358.1,728.1 359.7,732.8 361.1,737.7 362.4,742.8 363.4,747.9 364.2,753.0 364.7,757.9 364.9,762.7 364.9,767.2 364.6,771.2 364.1,774.9 363.3,778.1 362.2,780.7 361.0,782.7 359.5,784.0 357.9,784.8 372.7,782.3 374.3,781.5 375.8,780.2 377.0,778.2 378.1,775.6 378.9,772.4 379.4,768.7 379.7,764.7 379.7,760.2 379.5,755.4 379.0,750.5 378.2,745.4 377.2,740.3 375.9,735.2 374.5,730.3 372.9,725.6 371.1,721.1 369.2,717.1 367.2,713.5 365.2,710.4 363.1,707.9 361.0,706.0 359.0,704.7 357.1,704.1 355.3,704.1" fill="url(#cylV)" />
<polygon points="368.0,711.7 368.8,711.8 369.6,712.4 370.6,713.5 371.6,715.0 372.6,717.0 373.7,719.4 374.8,722.2 375.9,725.3 377.0,728.7 378.0,732.3 379.0,736.0 379.9,739.8 380.7,743.6 381.4,747.4 381.9,751.1 382.4,754.6 382.7,757.9 382.9,760.9 382.9,763.5 382.8,765.8 382.6,767.6 382.2,769.0 381.6,769.9 381.0,770.3 382.8,778.6 384.4,777.9 385.8,776.6 387.1,774.6 388.1,772.1 388.8,769.1 389.4,765.6 389.6,761.6 389.7,757.4 389.4,752.8 388.9,748.0 388.2,743.1 387.2,738.2 386.0,733.3 384.6,728.6 383.0,724.0 381.3,719.8 379.5,715.9 377.6,712.4 375.6,709.5 373.6,707.0 371.7,705.2 369.7,704.0 367.9,703.4 366.2,703.4" fill="#4e4e98" />
<polygon points="366.2,703.4 367.9,703.4 369.7,704.0 371.7,705.2 373.6,707.0 375.6,709.5 377.6,712.4 379.5,715.9 381.3,719.8 383.0,724.0 384.6,728.6 386.0,733.3 387.2,738.2 388.2,743.1 388.9,748.0 389.4,752.8 389.7,757.4 389.6,761.6 389.4,765.6 388.8,769.1 388.1,772.1 387.1,774.6 385.8,776.6 384.4,777.9 382.8,778.6 386.3,777.8 387.9,777.1 389.3,775.8 390.6,773.8 391.6,771.3 392.3,768.3 392.9,764.8 393.1,760.8 393.2,756.6 392.9,752.0 392.4,747.2 391.7,742.3 390.7,737.4 389.5,732.5 388.1,727.8 386.5,723.2 384.8,719.0 383.0,715.1 381.1,711.6 379.1,708.7 377.1,706.2 375.2,704.4 373.2,703.2 371.4,702.6 369.7,702.6" fill="#3c3c78" />
<polygon points="382.7,705.7 383.4,705.9 384.3,706.5 385.3,707.6 386.3,709.3 387.4,711.4 388.5,713.9 389.6,716.8 390.7,720.1 391.9,723.6 392.9,727.4 393.9,731.3 394.9,735.3 395.7,739.3 396.5,743.3 397.1,747.2 397.6,750.8 397.9,754.3 398.1,757.4 398.2,760.2 398.1,762.5 397.9,764.5 397.5,765.9 397.0,766.8 396.3,767.3 397.9,774.6 399.5,773.9 400.9,772.5 402.2,770.6 403.2,768.1 403.9,765.0 404.4,761.4 404.7,757.4 404.7,753.1 404.5,748.5 403.9,743.6 403.2,738.7 402.2,733.7 401.0,728.7 399.6,723.9 398.0,719.3 396.3,715.0 394.4,711.1 392.5,707.6 390.5,704.6 388.5,702.1 386.6,700.2 384.6,699.0 382.8,698.4 381.1,698.4" fill="#4e4e98" />
<polygon points="381.1,698.4 382.8,698.4 384.6,699.0 386.6,700.2 388.5,702.1 390.5,704.6 392.5,707.6 394.4,711.1 396.3,715.0 398.0,719.3 399.6,723.9 401.0,728.7 402.2,733.7 403.2,738.7 403.9,743.6 404.5,748.5 404.7,753.1 404.7,757.4 404.4,761.4 403.9,765.0 403.2,768.1 402.2,770.6 400.9,772.5 399.5,773.9 397.9,774.6 402.4,773.6 404.0,772.9 405.4,771.5 406.7,769.6 407.7,767.1 408.4,764.0 408.9,760.4 409.2,756.4 409.2,752.1 409.0,747.5 408.4,742.6 407.7,737.7 406.7,732.7 405.5,727.7 404.1,722.9 402.5,718.3 400.8,714.0 398.9,710.1 397.0,706.6 395.0,703.6 393.0,701.1 391.1,699.2 389.1,698.0 387.3,697.4 385.6,697.4" fill="#3c3c78" />
<polygon points="464.7,692.9 465.3,693.0 465.9,693.5 466.6,694.4 467.4,695.6 468.2,697.3 469.0,699.2 469.9,701.5 470.8,704.0 471.6,706.7 472.4,709.6 473.2,712.6 473.9,715.7 474.6,718.8 475.1,721.9 475.6,724.9 476.0,727.7 476.3,730.4 476.5,732.8 476.5,734.9 476.5,736.7 476.4,738.2 476.1,739.3 475.7,740.0 475.3,740.3 477.1,748.8 478.5,748.2 479.7,747.1 480.7,745.5 481.6,743.3 482.2,740.7 482.6,737.7 482.9,734.3 482.9,730.6 482.7,726.7 482.2,722.6 481.6,718.4 480.7,714.2 479.7,710.0 478.5,706.0 477.2,702.1 475.7,698.4 474.2,695.1 472.5,692.1 470.9,689.6 469.2,687.5 467.5,685.9 465.9,684.9 464.3,684.3 462.9,684.4" fill="#1e8c8c" />
<polygon points="462.9,684.4 464.3,684.3 465.9,684.9 467.5,685.9 469.2,687.5 470.9,689.6 472.5,692.1 474.2,695.1 475.7,698.4 477.2,702.1 478.5,706.0 479.7,710.0 480.7,714.2 481.6,718.4 482.2,722.6 482.7,726.7 482.9,730.6 482.9,734.3 482.6,737.7 482.2,740.7 481.6,743.3 480.7,745.5 479.7,747.1 478.5,748.2 477.1,748.8 480.1,748.1 481.5,747.5 482.7,746.4 483.7,744.8 484.6,742.6 485.2,740.0 485.6,737.0 485.9,733.6 485.9,729.9 485.7,726.0 485.2,721.9 484.6,717.7 483.7,713.5 482.7,709.3 481.5,705.3 480.2,701.4 478.7,697.7 477.2,694.4 475.5,691.4 473.9,688.9 472.2,686.8 470.5,685.2 468.9,684.2 467.3,683.6 465.9,683.7" fill="#176c6c" />
<clipPath id="flclip"><polygon points="465.9,683.7 467.3,683.6 468.9,684.2 470.5,685.2 472.2,686.8 473.9,688.9 475.5,691.4 477.2,694.4 478.7,697.7 480.2,701.4 481.5,705.3 482.7,709.3 483.7,713.5 484.6,717.7 485.2,721.9 485.7,726.0 485.9,729.9 485.9,733.6 485.6,737.0 485.2,740.0 484.6,742.6 483.7,744.8 482.7,746.4 481.5,747.5 480.1,748.1 487.3,747.8 488.2,747.3 489.0,746.2 489.7,744.6 490.2,742.4 490.5,739.8 490.6,736.7 490.5,733.2 490.3,729.4 489.9,725.4 489.3,721.1 488.5,716.8 487.6,712.4 486.6,708.0 485.4,703.7 484.2,699.6 482.8,695.8 481.5,692.2 480.0,689.1 478.6,686.3 477.2,684.1 475.9,682.3 474.6,681.1 473.4,680.5 472.3,680.4"/></clipPath><g clip-path="url(#flclip)">
<polygon points="462.0,691.0 496.0,685.4 497.5,692.9 463.8,698.9" fill="#0000ff" />
<polygon points="463.8,698.9 497.5,692.9 499.4,702.4 466.1,708.9" fill="#00ff00" />
<polygon points="466.1,708.9 499.4,702.4 501.1,711.0 468.1,717.8" fill="#ff0000" />
<polygon points="468.1,717.8 501.1,711.0 501.5,713.0 468.6,719.9" fill="#ff00ff" />
<polygon points="468.6,719.9 501.5,713.0 503.4,722.5 470.9,729.9" fill="#00ffff" />
<polygon points="470.9,729.9 503.4,722.5 503.9,725.0 471.5,732.5" fill="#b4b400" />
<polygon points="471.5,732.5 503.9,725.0 506.0,735.5 474.0,743.5" fill="#800080" />
</g>
<polygon points="499.5,668.2 520.2,698.2 521.3,745.3 508.0,741.0" fill="#7a147a" />
<polygon points="514.5,702.6 517.8,701.6 517.4,703.4 514.5,704.0" fill="#ff0000" />
<polygon points="516.2,717.8 518.0,717.6 518.0,719.2 516.2,719.4" fill="#00ffff" />
<polygon points="472.3,680.4 473.4,680.5 474.6,681.1 475.9,682.3 477.2,684.1 478.6,686.3 480.0,689.1 481.5,692.2 482.8,695.8 484.2,699.6 485.4,703.7 486.6,708.0 487.6,712.4 488.5,716.8 489.3,721.1 489.9,725.4 490.3,729.4 490.5,733.2 490.6,736.7 490.5,739.8 490.2,742.4 489.7,744.6 489.0,746.2 488.2,747.3 487.3,747.8 514.6,740.3 515.6,739.8 516.4,738.7 517.1,737.2 517.6,735.1 517.9,732.5 518.0,729.5 518.0,726.2 517.8,722.5 517.4,718.6 516.8,714.5 516.1,710.2 515.2,706.0 514.2,701.7 513.1,697.6 511.8,693.6 510.5,689.9 509.2,686.5 507.8,683.4 506.4,680.8 505.0,678.6 503.7,676.9 502.4,675.8 501.3,675.1 500.2,675.1" fill="url(#cylV)" />
<ellipse cx="141.6" cy="798.6" rx="59.9" ry="47.2" transform="rotate(32.7 141.6 798.6)" fill="#403c02"/>
<ellipse cx="139.6" cy="801" rx="59.8" ry="47" transform="rotate(32.7 139.6 801)" fill="#4c4806"/>
<ellipse cx="137.3" cy="803.9" rx="59.7" ry="46.9" transform="rotate(32.7 137.3 803.9)" fill="#706a08"/>
<defs>
<linearGradient id="lgA" x1="0" y1="0" x2="1" y2="0"><stop offset="0" stop-color="#7272e4"/><stop offset="0.35" stop-color="#7a7af2"/><stop offset="1" stop-color="#6262c6"/></linearGradient>
<linearGradient id="lgB" x1="0" y1="0" x2="1" y2="0.3"><stop offset="0" stop-color="#7c7cf4"/><stop offset="0.4" stop-color="#8484fc"/><stop offset="1" stop-color="#6a6ad4"/></linearGradient>
<linearGradient id="lgF" x1="0" y1="0" x2="1" y2="0"><stop offset="0" stop-color="#4c4c9c"/><stop offset="1" stop-color="#6666c8"/></linearGradient>
</defs>
<rect x="588.5" y="319.5" width="341.3" height="184.7" fill="#ffffff" stroke="#000" stroke-width="2"/>
<ellipse cx="639.3" cy="401.3" rx="33.8" ry="67.3" transform="rotate(6.7 639.3 401.3)" fill="url(#lgA)" />
<ellipse cx="667" cy="407.0" rx="30.5" ry="61.5" transform="rotate(6 667 407.0)" fill="url(#lgB)" />
<ellipse cx="669" cy="407.06" rx="30.2" ry="61.36" transform="rotate(6 669 407.06)" fill="url(#lgB)" />
<ellipse cx="671" cy="407.12" rx="29.9" ry="61.22" transform="rotate(6 671 407.12)" fill="url(#lgB)" />
<ellipse cx="673" cy="407.18" rx="29.6" ry="61.08" transform="rotate(6 673 407.18)" fill="url(#lgB)" />
<ellipse cx="675" cy="407.24" rx="29.3" ry="60.94" transform="rotate(6 675 407.24)" fill="url(#lgB)" />
<ellipse cx="677" cy="407.3" rx="29.0" ry="60.8" transform="rotate(6 677 407.3)" fill="url(#lgB)" />
<ellipse cx="679" cy="407.36" rx="28.7" ry="60.66" transform="rotate(6 679 407.36)" fill="url(#lgB)" />
<ellipse cx="681" cy="407.42" rx="28.4" ry="60.52" transform="rotate(6 681 407.42)" fill="url(#lgB)" />
<ellipse cx="683" cy="407.48" rx="28.1" ry="60.38" transform="rotate(6 683 407.48)" fill="url(#lgB)" />
<ellipse cx="685" cy="407.54" rx="27.8" ry="60.24" transform="rotate(6 685 407.54)" fill="#7070e0" />
<ellipse cx="707.5" cy="412.3" rx="26" ry="56.3" transform="rotate(8 707.5 412.3)" fill="#8686f6" />
<ellipse cx="709.0" cy="412.3" rx="26" ry="56.3" transform="rotate(8 709.0 412.3)" fill="#8686f6" />
<ellipse cx="710.5" cy="412.3" rx="26" ry="56.3" transform="rotate(8 710.5 412.3)" fill="#8686f6" />
<ellipse cx="711.2" cy="412.4" rx="25" ry="55.8" transform="rotate(8 711.2 412.4)" fill="#5858b0" />
<g transform="rotate(9 735.4 416.1)"><path fill-rule="evenodd" fill="#b20008" d="M721.4,416.1 a14,32.6 0 1,0 28,0 a14,32.6 0 1,0 -28,0Z M729.6,416 a6.4,14.3 0 1,0 12.8,0 a6.4,14.3 0 1,0 -12.8,0Z"/></g>
<g transform="rotate(9 761.8 420.2)"><path fill-rule="evenodd" fill="#9292a8" d="M744.5999999999999,420.2 a17.2,38 0 1,0 34.4,0 a17.2,38 0 1,0 -34.4,0Z M754.0,420.2 a7.8,16.4 0 1,0 15.6,0 a7.8,16.4 0 1,0 -15.6,0Z"/></g>
<ellipse cx="827" cy="430.6" rx="29.5" ry="60" transform="rotate(9 827 430.6)" fill="#7676ea" />
<ellipse cx="829" cy="430.70000000000005" rx="29.5" ry="60" transform="rotate(9 829 430.70000000000005)" fill="#7676ea" />
<ellipse cx="831" cy="430.8" rx="29.5" ry="60" transform="rotate(9 831 430.8)" fill="#7676ea" />
<ellipse cx="833" cy="430.90000000000003" rx="29.5" ry="60" transform="rotate(9 833 430.90000000000003)" fill="#7676ea" />
<ellipse cx="835" cy="431.0" rx="29.5" ry="60" transform="rotate(9 835 431.0)" fill="#7676ea" />
<ellipse cx="837" cy="431.1" rx="29.5" ry="60" transform="rotate(9 837 431.1)" fill="#7676ea" />
<ellipse cx="839" cy="431.20000000000005" rx="29.5" ry="60" transform="rotate(9 839 431.20000000000005)" fill="#7070e0" />
<ellipse cx="841" cy="431.3" rx="29.5" ry="60" transform="rotate(9 841 431.3)" fill="#7070e0" />
<ellipse cx="843" cy="431.40000000000003" rx="29.5" ry="60" transform="rotate(9 843 431.40000000000003)" fill="#7070e0" />
<ellipse cx="843.5" cy="431.5" rx="28.6" ry="59.3" transform="rotate(9 843.5 431.5)" fill="url(#lgF)" />
<ellipse cx="861" cy="434" rx="28" ry="57.6" transform="rotate(9 861 434)" fill="#7c7cf0" />
<ellipse cx="863" cy="434" rx="28" ry="57.6" transform="rotate(9 863 434)" fill="#7c7cf0" />
<ellipse cx="865" cy="434" rx="28" ry="57.6" transform="rotate(9 865 434)" fill="#7c7cf0" />
<ellipse cx="866" cy="434" rx="28" ry="57.6" transform="rotate(9 866 434)" fill="#7c7cf0" />
<ellipse cx="866.5" cy="434.2" rx="27.4" ry="57.2" transform="rotate(9 866.5 434.2)" fill="#5252a8" />
<ellipse cx="874" cy="437.6" rx="28.3" ry="59" transform="rotate(9 874 437.6)" fill="#7878ec" />
<ellipse cx="876" cy="437.70000000000005" rx="28.3" ry="59" transform="rotate(9 876 437.70000000000005)" fill="#7878ec" />
<ellipse cx="878" cy="437.8" rx="28.3" ry="59" transform="rotate(9 878 437.8)" fill="#7878ec" />
<ellipse cx="880" cy="437.90000000000003" rx="28.3" ry="59" transform="rotate(9 880 437.90000000000003)" fill="#7878ec" />
<ellipse cx="881.5" cy="437.975" rx="28.3" ry="59" transform="rotate(9 881.5 437.975)" fill="#7878ec" />
<ellipse cx="881.7" cy="438" rx="27.9" ry="58.8" transform="rotate(9 881.7 438)" fill="#484890" />
<line x1="768.3" y1="308.8" x2="768.3" y2="352.8" stroke="#000" stroke-width="1.2"/>
<polygon points="768.3,361.8 763.0,350.8 773.6,350.8" fill="#000"/>
<line x1="731.4" y1="465.6" x2="731.4" y2="514.5" stroke="#000" stroke-width="1.2"/>
<polygon points="731.4,523.5 726.4,512.5 736.4,512.5" fill="#000"/>
<path d="M759.2,465.6 L759.2,516.3 L951.6,516.3 L951.6,735" stroke="#000" stroke-width="2" fill="none"/>
<polygon points="951.6,744 946,732.5 957.2,732.5" fill="#000"/>
<rect x="567.4" y="524.8" width="325.80000000000007" height="219.0" fill="#ffffff" stroke="#000" stroke-width="2.2"/>
<path d="M663.9,529.5V662.7M663.9,529.5H798.1M677.3,529.5V662.7M663.9,542.8H798.1M690.7,529.5V662.7M663.9,556.1H798.1M704.2,529.5V662.7M663.9,569.5H798.1M717.6,529.5V662.7M663.9,582.8H798.1M731.0,529.5V662.7M663.9,596.1H798.1M744.4,529.5V662.7M663.9,609.4H798.1M757.8,529.5V662.7M663.9,622.7H798.1M771.3,529.5V662.7M663.9,636.1H798.1M784.7,529.5V662.7M663.9,649.4H798.1M798.1,529.5V662.7M663.9,662.7H798.1" stroke="#ececec" stroke-width="0.8" fill="none"/>
<circle cx="731" cy="596" r="65.39999999999999" fill="#58c8b0"/>
<path fill-rule="evenodd" fill="#84108a" d="M666.2,596 a64.8,64.8 0 1,0 129.6,0 a64.8,64.8 0 1,0 -129.6,0Z M704.7,596 a26.3,26.3 0 1,0 52.6,0 a26.3,26.3 0 1,0 -52.6,0Z"/>
<circle cx="731" cy="596" r="26.3" fill="#ffffff"/>
<path d="M727.5,596H734.5M731,592.5V599.5" stroke="#555" stroke-width="0.8"/>
<path d="M588,529.5V662.7M584.5,529.5H591.5M584.5,662.7H591.5" stroke="#777" stroke-width="0.9" fill="none"/>
<text xml:space="preserve" x="581.1" y="658.5" font-family='"Liberation Mono", monospace' font-size="7.4" fill="#828282" text-anchor="start" textLength="120" lengthAdjust="spacingAndGlyphs" transform="rotate(-90 581.1 658.5)">SCALE: 84.0000 MILLIMETERS</text>
<text xml:space="preserve" x="572.2" y="690.3" font-family='"Liberation Mono", monospace' font-size="7.6" fill="#828282" text-anchor="start" textLength="120.4" lengthAdjust="spacingAndGlyphs">APERTURE DIAMETER: 81.6440</text>
<text xml:space="preserve" x="779.8" y="690.3" font-family='"Liberation Mono", monospace' font-size="7.6" fill="#828282" text-anchor="start" textLength="107.4" lengthAdjust="spacingAndGlyphs">% RAYS THROUGH = 81.91%</text>
<path d="M567.6,694H893.2M567.6,701.5H893.2" stroke="#666" stroke-width="0.9" fill="none"/>
<text xml:space="preserve" x="691.3" y="700" font-family='"Liberation Mono", monospace' font-size="7.6" fill="#828282" text-anchor="start" textLength="79.7" lengthAdjust="spacingAndGlyphs">FOOTPRINT DIAGRAM</text>
<text xml:space="preserve" x="572.2" y="709.3" font-family='"Liberation Mono", monospace' font-size="7.6" fill="#828282" text-anchor="start" textLength="18.8" lengthAdjust="spacingAndGlyphs">0.23</text>
<text xml:space="preserve" x="572.2" y="721.7" font-family='"Liberation Mono", monospace' font-size="7.6" fill="#828282" text-anchor="start" textLength="102.8" lengthAdjust="spacingAndGlyphs">SURFACE 29: PUPIL@3.5M</text>
<text xml:space="preserve" x="572.2" y="727.6" font-family='"Liberation Mono", monospace' font-size="7.6" fill="#828282" text-anchor="start" textLength="200.1" lengthAdjust="spacingAndGlyphs">RAY X MIN =  -40.1706 RAY X MAX =   40.1706</text>
<text xml:space="preserve" x="572.2" y="733.7" font-family='"Liberation Mono", monospace' font-size="7.6" fill="#828282" text-anchor="start" textLength="200.1" lengthAdjust="spacingAndGlyphs">RAY Y MIN =  -40.1706 RAY Y MAX =   40.1706</text>
<text xml:space="preserve" x="572.2" y="739.6" font-family='"Liberation Mono", monospace' font-size="7.6" fill="#828282" text-anchor="start" textLength="200.1" lengthAdjust="spacingAndGlyphs">MAX RADIUS=   40.6789 WAVELENGTH=    2.4000</text>
<path d="M785,701.5V743.8M785,727.3H893.2" stroke="#555" stroke-width="0.9" fill="none"/>
<text xml:space="preserve" x="787.8" y="711" font-family='"Liberation Mono", monospace' font-size="10.4" fill="#828282" text-anchor="start" textLength="103.2" lengthAdjust="spacingAndGlyphs">INSTITUTO ASTROFISICA ANDALUCIA</text>
<text xml:space="preserve" x="787.8" y="719.3" font-family='"Liberation Mono", monospace' font-size="8.2" fill="#828282" text-anchor="start" textLength="103.2" lengthAdjust="spacingAndGlyphs">CONCHI CARDENAS</text>
<text xml:space="preserve" x="787.8" y="733.8" font-family='"Liberation Mono", monospace' font-size="6.9" fill="#828282" text-anchor="start" textLength="103.2" lengthAdjust="spacingAndGlyphs">35_PANIC_4_TP_MIRRORS_35PUPIL.ZMX</text>
<text xml:space="preserve" x="787.8" y="740.6" font-family='"Liberation Mono", monospace' font-size="7.6" fill="#828282" text-anchor="start" textLength="103.2" lengthAdjust="spacingAndGlyphs">CONFIGURATION 1 OF 1</text>
<rect x="661.2" y="743.8" width="320.9" height="220.20000000000005" fill="#ffffff" stroke="#000" stroke-width="2.2"/>
<path d="M756.8,751.8V883.2M756.8,751.8H888.1M769.9,751.8V883.2M756.8,764.9H888.1M783.1,751.8V883.2M756.8,778.1H888.1M796.2,751.8V883.2M756.8,791.2H888.1M809.3,751.8V883.2M756.8,804.4H888.1M822.5,751.8V883.2M756.8,817.5H888.1M835.6,751.8V883.2M756.8,830.6H888.1M848.7,751.8V883.2M756.8,843.8H888.1M861.8,751.8V883.2M756.8,856.9H888.1M875.0,751.8V883.2M756.8,870.1H888.1M888.1,751.8V883.2M756.8,883.2H888.1" stroke="#ececec" stroke-width="0.8" fill="none"/>
<circle cx="822.7" cy="817.2" r="64.5" fill="#58c8b0"/>
<path fill-rule="evenodd" fill="#84108a" d="M758.8000000000001,817.2 a63.9,63.9 0 1,0 127.8,0 a63.9,63.9 0 1,0 -127.8,0Z M796.3000000000001,817.2 a26.4,26.4 0 1,0 52.8,0 a26.4,26.4 0 1,0 -52.8,0Z"/>
<circle cx="822.7" cy="817.2" r="26.4" fill="#ffffff"/>
<path d="M819.2,817.2H826.2M822.7,813.7V820.7" stroke="#555" stroke-width="0.8"/>
<path d="M681.7,751.8V883.2M678.2,751.8H685.2M678.2,883.2H685.2" stroke="#777" stroke-width="0.9" fill="none"/>
<text xml:space="preserve" x="675.1" y="879.2" font-family='"Liberation Mono", monospace' font-size="7.4" fill="#828282" text-anchor="start" textLength="118.4" lengthAdjust="spacingAndGlyphs" transform="rotate(-90 675.1 879.2)">SCALE: 90.0000 MILLIMETERS</text>
<text xml:space="preserve" x="666.3" y="910" font-family='"Liberation Mono", monospace' font-size="7.6" fill="#828282" text-anchor="start" textLength="119" lengthAdjust="spacingAndGlyphs">APERTURE DIAMETER: 95.5760</text>
<text xml:space="preserve" x="871" y="910" font-family='"Liberation Mono", monospace' font-size="7.6" fill="#828282" text-anchor="start" textLength="104.4" lengthAdjust="spacingAndGlyphs">% RAYS THROUGH = 81.44%</text>
<path d="M661.2,913.8H982.1M661.2,921.3H982.1" stroke="#666" stroke-width="0.9" fill="none"/>
<text xml:space="preserve" x="783.2" y="919" font-family='"Liberation Mono", monospace' font-size="7.6" fill="#828282" text-anchor="start" textLength="77.8" lengthAdjust="spacingAndGlyphs">FOOTPRINT DIAGRAM</text>
<text xml:space="preserve" x="666.3" y="928.5" font-family='"Liberation Mono", monospace' font-size="7.6" fill="#828282" text-anchor="start" textLength="18.1" lengthAdjust="spacingAndGlyphs">0.45</text>
<text xml:space="preserve" x="666.3" y="940.6" font-family='"Liberation Mono", monospace' font-size="7.6" fill="#828282" text-anchor="start" textLength="122.5" lengthAdjust="spacingAndGlyphs">SURFACE 29: 2.2M COLD PUPIL</text>
<text xml:space="preserve" x="666.3" y="946.5" font-family='"Liberation Mono", monospace' font-size="7.6" fill="#828282" text-anchor="start" textLength="195.7" lengthAdjust="spacingAndGlyphs">RAY X MIN =  -47.6421 RAY X MAX =   47.6421</text>
<text xml:space="preserve" x="666.3" y="952.4" font-family='"Liberation Mono", monospace' font-size="7.6" fill="#828282" text-anchor="start" textLength="195.7" lengthAdjust="spacingAndGlyphs">RAY Y MIN =  -47.6421 RAY Y MAX =   47.6421</text>
<text xml:space="preserve" x="666.3" y="958.2" font-family='"Liberation Mono", monospace' font-size="7.6" fill="#828282" text-anchor="start" textLength="195.7" lengthAdjust="spacingAndGlyphs">MAX RADIUS=   47.7748 WAVELENGTH=    2.4000</text>
<path d="M875.7,921.3V964M875.7,946.5H982.1" stroke="#555" stroke-width="0.9" fill="none"/>
<text xml:space="preserve" x="878.3" y="930.5" font-family='"Liberation Mono", monospace' font-size="10.4" fill="#828282" text-anchor="start" textLength="101.5" lengthAdjust="spacingAndGlyphs">INSTITUTO ASTROFISICA ANDALUCIA</text>
<text xml:space="preserve" x="878.3" y="938.6" font-family='"Liberation Mono", monospace' font-size="8.2" fill="#828282" text-anchor="start" textLength="101.5" lengthAdjust="spacingAndGlyphs">CONCHI CARDENAS</text>
<text xml:space="preserve" x="878.3" y="953" font-family='"Liberation Mono", monospace' font-size="6.9" fill="#828282" text-anchor="start" textLength="101.5" lengthAdjust="spacingAndGlyphs">PANIC_4_TP_MIRRORS22_35_2.ZMX</text>
<text xml:space="preserve" x="878.3" y="959.7" font-family='"Liberation Mono", monospace' font-size="7.6" fill="#828282" text-anchor="start" textLength="101.5" lengthAdjust="spacingAndGlyphs">CONFIGURATION 1 OF 1</text>
<ellipse cx="540" cy="550.1" rx="21.6" ry="12" fill="none" stroke="#000" stroke-width="1.1"/>
<text x="538.7" y="554.8" font-size="13.4" font-weight="bold" text-anchor="middle" fill="#000" textLength="29" lengthAdjust="spacingAndGlyphs">T35</text>
<ellipse cx="616.9" cy="856.2" rx="21.6" ry="12" fill="none" stroke="#000" stroke-width="1.1"/>
<text x="616.4" y="860.8" font-size="13.4" font-weight="bold" text-anchor="middle" fill="#000" textLength="29" lengthAdjust="spacingAndGlyphs">T22</text>
<circle cx="18.6" cy="26.6" r="5.1" fill="#28286e"/>
<text x="38" y="34.3" font-size="24.6" text-anchor="start" fill="#28286e" font-weight="normal" textLength="166" lengthAdjust="spacingAndGlyphs" >Diseño óptico</text>
<text x="40.8" y="101.3" font-size="14.4" text-anchor="start" fill="#000" font-weight="normal" textLength="72.7" lengthAdjust="spacingAndGlyphs" >Interfaz al</text>
<text x="41.8" y="122.6" font-size="14.4" text-anchor="start" fill="#000" font-weight="normal" textLength="70" lengthAdjust="spacingAndGlyphs" >telescopio</text>
<line x1="76.8" y1="133.3" x2="113.3" y2="156.1" stroke="#000" stroke-width="1.3"/>
<polygon points="122.2,161.7 108.8,159.5 114.4,150.6" fill="#000"/>
<text x="250.5" y="107.6" font-size="14.4" text-anchor="start" fill="#000" font-weight="normal" textLength="101.3" lengthAdjust="spacingAndGlyphs" >Plano focal RC</text>
<line x1="324.2" y1="110.4" x2="347.6" y2="125.0" stroke="#000" stroke-width="1.3"/>
<polygon points="356.5,130.6 343.1,128.4 348.7,119.5" fill="#000"/>
<text x="400.7" y="132" font-size="14.4" text-anchor="start" fill="#000" font-weight="normal" textLength="94.8" lengthAdjust="spacingAndGlyphs" >Diafragma de</text>
<text x="424.5" y="153.2" font-size="14.4" text-anchor="start" fill="#000" font-weight="normal" textLength="46.1" lengthAdjust="spacingAndGlyphs" >campo</text>
<text x="315" y="161" font-size="12.4" text-anchor="start" fill="#000" font-weight="normal" textLength="14.8" lengthAdjust="spacingAndGlyphs" >L1</text>
<line x1="413.4" y1="154.0" x2="379.7" y2="152.6" stroke="#000" stroke-width="1.3"/>
<polygon points="369.2,152.1 381.9,147.4 381.5,157.9" fill="#000"/>
<line x1="413.4" y1="154.0" x2="372.4" y2="252.1" stroke="#000" stroke-width="1.3"/>
<polygon points="368.3,261.8 368.3,248.2 378.0,252.3" fill="#000"/>
<text x="656.9" y="168" font-size="12.4" text-anchor="start" fill="#000" font-weight="normal" textLength="74.2" lengthAdjust="spacingAndGlyphs" >L2-L3-L4-L5</text>
<text x="773.7" y="170.7" font-size="12.4" text-anchor="start" fill="#000" font-weight="normal" textLength="54.2" lengthAdjust="spacingAndGlyphs" >L6-L7-L8</text>
<text x="832.3" y="132.2" font-size="14.4" text-anchor="start" fill="#000" font-weight="normal" textLength="43" lengthAdjust="spacingAndGlyphs" >Filtros</text>
<line x1="881.7" y1="137.5" x2="881.7" y2="165.5" stroke="#000" stroke-width="1.3"/>
<polygon points="881.7,176.0 876.5,163.5 887.0,163.5" fill="#000"/>
<text x="891.5" y="181" font-size="12.4" text-anchor="start" fill="#000" font-weight="normal" textLength="12.7" lengthAdjust="spacingAndGlyphs" >L9</text>
<text x="867.9" y="271.6" font-size="14.4" text-anchor="start" fill="#000" font-weight="normal" textLength="59.5" lengthAdjust="spacingAndGlyphs" >Detector</text>
<line x1="923.0" y1="249.3" x2="919.2" y2="238.8" stroke="#000" stroke-width="1.3"/>
<polygon points="916.5,231.3 923.7,239.3 916.1,242.1" fill="#000"/>
<text x="674.3" y="287.9" font-size="14.4" text-anchor="start" fill="#000" font-weight="normal" textLength="102.4" lengthAdjust="spacingAndGlyphs" >Diafragmas de</text>
<text x="695.2" y="309.9" font-size="14.4" text-anchor="start" fill="#000" font-weight="normal" textLength="59.8" lengthAdjust="spacingAndGlyphs" >apertura</text>
<line x1="746.6" y1="260.7" x2="746.6" y2="244.9" stroke="#000" stroke-width="1.3"/>
<polygon points="746.6,237.9 750.6,246.9 742.6,246.9" fill="#000"/>
<line x1="423.3" y1="278.2" x2="642.5" y2="278.2" stroke="#000" stroke-width="1.2"/>
<polygon points="418.7,278.2 423.3,273.6 427.90000000000003,278.2 423.3,282.8" fill="#000"/>
<polygon points="495.7,278.2 500.3,273.6 504.90000000000003,278.2 500.3,282.8" fill="#000"/>
<polygon points="502.29999999999995,278.2 506.9,273.6 511.5,278.2 506.9,282.8" fill="#000"/>
<polygon points="577.1,278.2 581.7,273.6 586.3000000000001,278.2 581.7,282.8" fill="#000"/>
<polygon points="584.1999999999999,278.2 588.8,273.6 593.4,278.2 588.8,282.8" fill="#000"/>
<polygon points="637.9,278.2 642.5,273.6 647.1,278.2 642.5,282.8" fill="#000"/>
<text x="451.5" y="309" font-size="12.4" text-anchor="start" fill="#000" font-weight="normal" textLength="17.4" lengthAdjust="spacingAndGlyphs" >M1</text>
<text x="545.4" y="309" font-size="12.4" text-anchor="start" fill="#000" font-weight="normal" textLength="17.4" lengthAdjust="spacingAndGlyphs" >M2</text>
<text x="608.8" y="309" font-size="12.4" text-anchor="start" fill="#000" font-weight="normal" textLength="17.4" lengthAdjust="spacingAndGlyphs" >M3</text>
<text x="27.7" y="327" font-size="14.4" text-anchor="start" fill="#000" font-weight="normal" textLength="83.5" lengthAdjust="spacingAndGlyphs" >Ventana del</text>
<text x="39" y="348.8" font-size="14.4" text-anchor="start" fill="#000" font-weight="normal" textLength="60.9" lengthAdjust="spacingAndGlyphs" >criostato</text>
<line x1="73.4" y1="308.0" x2="161.0" y2="275.9" stroke="#000" stroke-width="1.3"/>
<polygon points="170.9,272.3 161.0,281.5 157.4,271.7" fill="#000"/>
<line x1="119.5" y1="351.1" x2="154.3" y2="365.9" stroke="#000" stroke-width="1.3"/>
<polygon points="164.0,370.0 150.4,369.9 154.5,360.3" fill="#000"/>
<text x="57.3" y="649.7" font-size="12.4" text-anchor="start" fill="#000" font-weight="normal" textLength="16.3" lengthAdjust="spacingAndGlyphs" >M2</text>
<text x="80.6" y="872.5" font-size="12.4" text-anchor="start" fill="#000" font-weight="normal" textLength="16.8" lengthAdjust="spacingAndGlyphs" >M3</text>
<text x="290" y="642.3" font-size="12.4" text-anchor="start" fill="#000" font-weight="normal" textLength="16" lengthAdjust="spacingAndGlyphs" >M1</text>
<text x="217" y="843" font-size="12.4" text-anchor="start" fill="#000" font-weight="normal" textLength="75.8" lengthAdjust="spacingAndGlyphs" >L2-L3-L4-L5</text>
<text x="356.3" y="805.8" font-size="12.4" text-anchor="start" fill="#000" font-weight="normal" textLength="54.5" lengthAdjust="spacingAndGlyphs" >L6-L7-L8</text>
<line x1="129.6" y1="890.3" x2="534.1" y2="777.7" stroke="#000" stroke-width="1.2"/>
<polygon points="543.7,775.0 533.4,782.8 530.9,773.6" fill="#000"/>
<polygon points="120.4,892.9 133.2,894.3 130.7,885.1" fill="#000"/>
<text x="246" y="899.7" font-size="14.4" text-anchor="start" fill="#000" font-weight="normal" textLength="226.7" lengthAdjust="spacingAndGlyphs" transform="rotate(-14.8 246 899.7)">Distancia M3-detector: 850 mm</text>
<text x="10.2" y="889" font-size="14.4" text-anchor="start" fill="#000" font-weight="normal" textLength="207" lengthAdjust="spacingAndGlyphs" transform="rotate(-90 10.2 889)">Distancia foco RC-envolvente</text>
<text x="31.4" y="876" font-size="14.4" text-anchor="start" fill="#000" font-weight="normal" textLength="179.8" lengthAdjust="spacingAndGlyphs" transform="rotate(-90 31.4 876)">inferior M1+M2: 300 mm</text>
</svg>
<div class="bar"></div>
</body></html>
